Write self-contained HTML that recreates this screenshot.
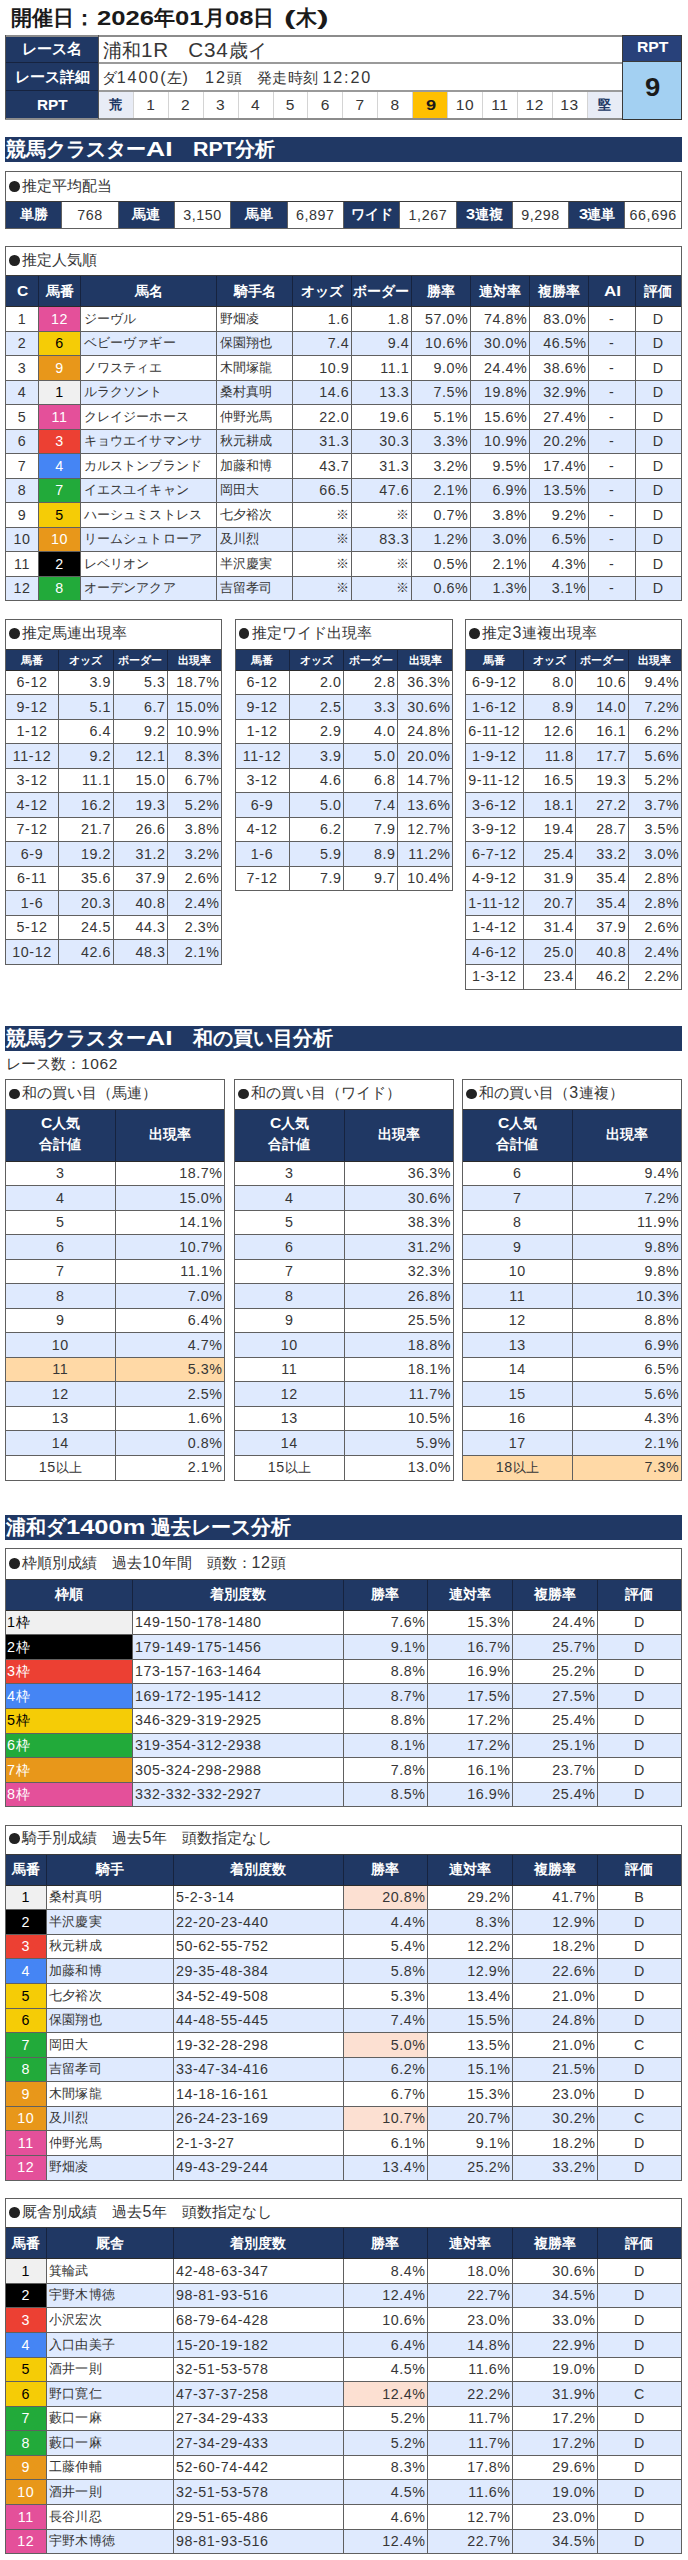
<!DOCTYPE html>
<html lang="ja"><head><meta charset="utf-8"><title>RPT</title><style>
html,body{margin:0;padding:0;background:#fff;}
body{width:688px;height:2560px;position:relative;overflow:hidden;font-family:"Liberation Sans",sans-serif;font-size:13.5px;color:#363636;}
div{position:absolute;box-sizing:border-box;white-space:nowrap;overflow:hidden;}
i{font-style:normal;font-size:1.065em;letter-spacing:.04em;}
s{display:inline-block;width:10.6px;height:10.6px;border-radius:50%;background:#222;margin:0 2.6px 0 1.8px;vertical-align:-1px;}
u{display:inline-block;text-decoration:none;vertical-align:baseline;line-height:1;}
u b{display:inline-block;font-size:1em;transform:scaleX(1.05);transform-origin:0 50%;}
u b.d{transform:scaleX(1.25);}
.c{text-align:center;}
.l{text-align:left;padding-left:3px;letter-spacing:.2px;}
.r{text-align:right;padding-right:2px;}
.s{padding-left:1.5px;}
.h{text-align:center;color:#fff;}
.cap{text-align:left;padding-left:2px;}
.ws i{letter-spacing:.115em;}
</style></head>
<body>
<div style="left:11px;top:3px;width:600px;height:30px;line-height:30px;font-size:20.5px;font-weight:bold;color:#1a1a1a;">開催日：<span style="margin-left:2px"><u style="width:57.01px"><b style="transform:scaleX(1.25);">2026</b></u>年<u style="width:28.5px"><b style="transform:scaleX(1.25);">01</b></u>月<u style="width:28.5px"><b style="transform:scaleX(1.25);">08</b></u>日<span style="margin-left:10px"><u style="width:11.61px"><b style="transform:scaleX(1.7);">(</b></u>木<u style="width:11.61px"><b style="transform:scaleX(1.7);">)</b></u></span></span></div>
<div style="left:5.5px;top:35.5px;width:93px;height:83.3px;background:#203864;"></div>
<div class="h" style="left:5.5px;top:35.5px;width:93px;height:27.3px;line-height:27.3px;font-size:14.6px;font-weight:bold;">レース名</div>
<div class="h" style="left:5.5px;top:62.8px;width:93px;height:28px;line-height:28px;font-size:14.6px;font-weight:bold;">レース詳細</div>
<div class="h" style="left:5.5px;top:90.8px;width:93px;height:28px;line-height:28px;font-size:14.6px;font-weight:bold;"><u style="width:30.66px"><b>RPT</b></u></div>
<div class="l" style="left:98.5px;top:35.5px;width:523.5px;height:27.3px;background:#fff;line-height:27.3px;font-size:19.4px;padding-left:4px;">浦和<i>1R</i>　<i>C34</i>歳イ</div>
<div class="l ws" style="left:98.5px;top:62.8px;width:523.5px;height:28px;background:#fff;line-height:28px;font-size:15.2px;padding-left:3px;">ダ<i>1400(</i>左<i>)</i>　<i>12</i>頭　発走時刻 <i>12:20</i></div>
<div class="c" style="left:98.5px;top:90.8px;width:34.9px;height:28px;background:#e8ecf6;line-height:28px;font-size:13.4px;font-weight:bold;color:#203864;">荒</div>
<div class="c" style="left:133.4px;top:90.8px;width:34.9px;height:28px;background:#fff;line-height:28px;font-size:14.6px;"><i>1</i></div>
<div style="left:132.9px;top:90.3px;width:1px;height:29px;background:#d4d4d4;"></div>
<div class="c" style="left:168.3px;top:90.8px;width:34.9px;height:28px;background:#fff;line-height:28px;font-size:14.6px;"><i>2</i></div>
<div style="left:167.8px;top:90.3px;width:1px;height:29px;background:#d4d4d4;"></div>
<div class="c" style="left:203.2px;top:90.8px;width:34.9px;height:28px;background:#fff;line-height:28px;font-size:14.6px;"><i>3</i></div>
<div style="left:202.7px;top:90.3px;width:1px;height:29px;background:#d4d4d4;"></div>
<div class="c" style="left:238.1px;top:90.8px;width:34.9px;height:28px;background:#fff;line-height:28px;font-size:14.6px;"><i>4</i></div>
<div style="left:237.6px;top:90.3px;width:1px;height:29px;background:#d4d4d4;"></div>
<div class="c" style="left:273px;top:90.8px;width:34.9px;height:28px;background:#fff;line-height:28px;font-size:14.6px;"><i>5</i></div>
<div style="left:272.5px;top:90.3px;width:1px;height:29px;background:#d4d4d4;"></div>
<div class="c" style="left:307.9px;top:90.8px;width:34.9px;height:28px;background:#fff;line-height:28px;font-size:14.6px;"><i>6</i></div>
<div style="left:307.4px;top:90.3px;width:1px;height:29px;background:#d4d4d4;"></div>
<div class="c" style="left:342.8px;top:90.8px;width:34.9px;height:28px;background:#fff;line-height:28px;font-size:14.6px;"><i>7</i></div>
<div style="left:342.3px;top:90.3px;width:1px;height:29px;background:#d4d4d4;"></div>
<div class="c" style="left:377.7px;top:90.8px;width:34.9px;height:28px;background:#fff;line-height:28px;font-size:14.6px;"><i>8</i></div>
<div style="left:377.2px;top:90.3px;width:1px;height:29px;background:#d4d4d4;"></div>
<div class="c" style="left:412.6px;top:90.8px;width:34.9px;height:28px;background:#ffc000;line-height:28px;font-size:14.6px;font-weight:bold;color:#1a1a1a;"><u style="width:10.15px"><b style="transform:scaleX(1.25);">9</b></u></div>
<div style="left:412.1px;top:90.3px;width:1px;height:29px;background:#d4d4d4;"></div>
<div class="c" style="left:447.5px;top:90.8px;width:34.9px;height:28px;background:#fff;line-height:28px;font-size:14.6px;"><i>10</i></div>
<div style="left:447px;top:90.3px;width:1px;height:29px;background:#d4d4d4;"></div>
<div class="c" style="left:482.4px;top:90.8px;width:34.9px;height:28px;background:#fff;line-height:28px;font-size:14.6px;"><i>11</i></div>
<div style="left:481.9px;top:90.3px;width:1px;height:29px;background:#d4d4d4;"></div>
<div class="c" style="left:517.3px;top:90.8px;width:34.9px;height:28px;background:#fff;line-height:28px;font-size:14.6px;"><i>12</i></div>
<div style="left:516.8px;top:90.3px;width:1px;height:29px;background:#d4d4d4;"></div>
<div class="c" style="left:552.2px;top:90.8px;width:34.9px;height:28px;background:#fff;line-height:28px;font-size:14.6px;"><i>13</i></div>
<div style="left:551.7px;top:90.3px;width:1px;height:29px;background:#d4d4d4;"></div>
<div class="c" style="left:587.1px;top:90.8px;width:34.9px;height:28px;background:#e8ecf6;line-height:28px;font-size:13.4px;font-weight:bold;color:#203864;">堅</div>
<div style="left:586.6px;top:90.3px;width:1px;height:29px;background:#d4d4d4;"></div>
<div style="left:98px;top:61.8px;width:524.5px;height:2px;background:#9a9a9a;"></div>
<div style="left:5px;top:62.3px;width:94px;height:1px;background:#16233f;"></div>
<div style="left:98px;top:89.8px;width:524.5px;height:2px;background:#9a9a9a;"></div>
<div style="left:5px;top:90.3px;width:94px;height:1px;background:#16233f;"></div>
<div style="left:5px;top:34.5px;width:617.5px;height:2px;background:#8c8c8c;"></div>
<div style="left:5px;top:117.8px;width:617.5px;height:2px;background:#8c8c8c;"></div>
<div style="left:5px;top:35px;width:1px;height:84.3px;background:#555;"></div>
<div style="left:98px;top:35px;width:1px;height:84.3px;background:#555;"></div>
<div style="left:622px;top:35.5px;width:59.5px;height:26px;background:#28417a;"></div>
<div class="h" style="left:622px;top:35.5px;width:59.5px;height:23.4px;line-height:23.4px;font-size:13.6px;font-weight:bold;"><u style="width:31.42px"><b style="font-size:1.1em;">RPT</b></u></div>
<div style="left:622px;top:61px;width:59.5px;height:58.5px;background:#a3d0f2;line-height:53.5px;text-align:center;font-weight:bold;font-size:25px;color:#1a1a1a;"><u style="width:15.4px"><b style="transform:scaleX(1.1)">9</b></u></div>
<div style="left:621.5px;top:35px;width:1px;height:84.8px;background:#3a3a3a;"></div>
<div style="left:681px;top:35px;width:1px;height:84.8px;background:#3a3a3a;"></div>
<div style="left:621.5px;top:35px;width:60.5px;height:1px;background:#3a3a3a;"></div>
<div style="left:621.5px;top:118.55px;width:60.5px;height:1.5px;background:#333;"></div>
<div style="left:621.5px;top:60.5px;width:60.5px;height:1px;background:#3a3a3a;"></div>
<div style="left:5px;top:137px;width:677px;height:25px;background:#203864;line-height:25px;font-size:20.4px;font-weight:bold;color:#fff;padding-left:1px;">競馬クラスター<u style="width:26.52px"><b style="transform:scaleX(1.3);">AI</b></u>　<u style="width:42.84px"><b>RPT</b></u>分析</div>
<div class="cap" style="left:5.5px;top:171.5px;width:675.8px;height:30px;background:#fff;line-height:27.6px;font-size:15px;"><s></s>推定平均配当</div>
<div class="h" style="left:5.5px;top:201.5px;width:56.32px;height:26.5px;background:#203864;line-height:26.5px;font-size:13.5px;font-weight:bold;">単勝</div>
<div class="c" style="left:61.82px;top:201.5px;width:56.32px;height:26.5px;background:#fff;line-height:26.5px;font-size:13.4px;"><i>768</i></div>
<div style="left:61.32px;top:201px;width:1px;height:27.5px;background:#606060;"></div>
<div class="h" style="left:118.13px;top:201.5px;width:56.32px;height:26.5px;background:#203864;line-height:26.5px;font-size:13.5px;font-weight:bold;">馬連</div>
<div class="c" style="left:174.45px;top:201.5px;width:56.32px;height:26.5px;background:#fff;line-height:26.5px;font-size:13.4px;"><i>3,150</i></div>
<div style="left:173.95px;top:201px;width:1px;height:27.5px;background:#606060;"></div>
<div style="left:117.63px;top:201px;width:1px;height:27.5px;background:#606060;"></div>
<div class="h" style="left:230.77px;top:201.5px;width:56.32px;height:26.5px;background:#203864;line-height:26.5px;font-size:13.5px;font-weight:bold;">馬単</div>
<div class="c" style="left:287.08px;top:201.5px;width:56.32px;height:26.5px;background:#fff;line-height:26.5px;font-size:13.4px;"><i>6,897</i></div>
<div style="left:286.58px;top:201px;width:1px;height:27.5px;background:#606060;"></div>
<div style="left:230.27px;top:201px;width:1px;height:27.5px;background:#606060;"></div>
<div class="h" style="left:343.4px;top:201.5px;width:56.32px;height:26.5px;background:#203864;line-height:26.5px;font-size:13.5px;font-weight:bold;">ワイド</div>
<div class="c" style="left:399.72px;top:201.5px;width:56.32px;height:26.5px;background:#fff;line-height:26.5px;font-size:13.4px;"><i>1,267</i></div>
<div style="left:399.22px;top:201px;width:1px;height:27.5px;background:#606060;"></div>
<div style="left:342.9px;top:201px;width:1px;height:27.5px;background:#606060;"></div>
<div class="h" style="left:456.03px;top:201.5px;width:56.32px;height:26.5px;background:#203864;line-height:26.5px;font-size:13.5px;font-weight:bold;"><u style="width:9.09px"><b style="transform:scaleX(1.1);font-size:1.1em;">3</b></u>連複</div>
<div class="c" style="left:512.35px;top:201.5px;width:56.32px;height:26.5px;background:#fff;line-height:26.5px;font-size:13.4px;"><i>9,298</i></div>
<div style="left:511.85px;top:201px;width:1px;height:27.5px;background:#606060;"></div>
<div style="left:455.53px;top:201px;width:1px;height:27.5px;background:#606060;"></div>
<div class="h" style="left:568.67px;top:201.5px;width:56.32px;height:26.5px;background:#203864;line-height:26.5px;font-size:13.5px;font-weight:bold;"><u style="width:9.09px"><b style="transform:scaleX(1.1);font-size:1.1em;">3</b></u>連単</div>
<div class="c" style="left:624.98px;top:201.5px;width:56.32px;height:26.5px;background:#fff;line-height:26.5px;font-size:13.4px;"><i>66,696</i></div>
<div style="left:624.48px;top:201px;width:1px;height:27.5px;background:#606060;"></div>
<div style="left:568.17px;top:201px;width:1px;height:27.5px;background:#606060;"></div>
<div style="left:5px;top:171px;width:676.8px;height:1px;background:#606060;"></div>
<div style="left:5px;top:201px;width:676.8px;height:1px;background:#3a3a3a;"></div>
<div style="left:5px;top:227.5px;width:676.8px;height:1px;background:#606060;"></div>
<div style="left:5px;top:171px;width:1px;height:57.5px;background:#606060;"></div>
<div style="left:680.8px;top:171px;width:1px;height:57.5px;background:#606060;"></div>
<div class="cap" style="left:5.5px;top:246px;width:675.8px;height:29.5px;background:#fff;line-height:27.1px;font-size:15px;"><s></s>推定人気順</div>
<div style="left:5.5px;top:275.5px;width:675.8px;height:31px;background:#203864;"></div>
<div class="h" style="left:5.5px;top:275.5px;width:33px;height:31px;line-height:31px;font-size:13.5px;font-weight:bold;"><u style="width:11.26px"><b style="font-size:1.1em;">C</b></u></div>
<div class="h" style="left:38.5px;top:275.5px;width:42px;height:31px;line-height:31px;font-size:13.5px;font-weight:bold;">馬番</div>
<div class="h" style="left:80.5px;top:275.5px;width:136px;height:31px;line-height:31px;font-size:13.5px;font-weight:bold;">馬名</div>
<div class="h" style="left:216.5px;top:275.5px;width:76px;height:31px;line-height:31px;font-size:13.5px;font-weight:bold;">騎手名</div>
<div class="h" style="left:292.5px;top:275.5px;width:58.7px;height:31px;line-height:31px;font-size:13.5px;font-weight:bold;">オッズ</div>
<div class="h" style="left:351.2px;top:275.5px;width:60.1px;height:31px;line-height:31px;font-size:13.5px;font-weight:bold;">ボーダー</div>
<div class="h" style="left:411.3px;top:275.5px;width:58.9px;height:31px;line-height:31px;font-size:13.5px;font-weight:bold;">勝率</div>
<div class="h" style="left:470.2px;top:275.5px;width:59px;height:31px;line-height:31px;font-size:13.5px;font-weight:bold;">連対率</div>
<div class="h" style="left:529.2px;top:275.5px;width:59.3px;height:31px;line-height:31px;font-size:13.5px;font-weight:bold;">複勝率</div>
<div class="h" style="left:588.5px;top:275.5px;width:46.5px;height:31px;line-height:31px;font-size:13.5px;font-weight:bold;"><u style="width:17.08px"><b style="transform:scaleX(1.15);font-size:1.1em;">AI</b></u></div>
<div class="h" style="left:635px;top:275.5px;width:46.3px;height:31px;line-height:31px;font-size:13.5px;font-weight:bold;">評価</div>
<div style="left:5.5px;top:306.5px;width:675.8px;height:24.54px;background:#fff;"></div>
<div class="c" style="left:5.5px;top:306.5px;width:33px;height:24.54px;line-height:24.54px;font-size:13.4px;"><i>1</i></div>
<div class="c" style="left:38.5px;top:306.5px;width:42px;height:24.54px;background:#e4509a;line-height:24.54px;font-size:13.4px;color:#fff;"><i>12</i></div>
<div class="l" style="left:80.5px;top:306.5px;width:136px;height:24.54px;line-height:24.54px;font-size:13.4px;">ジーヴル</div>
<div class="l" style="left:216.5px;top:306.5px;width:76px;height:24.54px;line-height:24.54px;font-size:13.4px;">野畑凌</div>
<div class="r" style="left:292.5px;top:306.5px;width:58.7px;height:24.54px;line-height:24.54px;font-size:13.4px;"><i>1.6</i></div>
<div class="r" style="left:351.2px;top:306.5px;width:60.1px;height:24.54px;line-height:24.54px;font-size:13.4px;"><i>1.8</i></div>
<div class="r" style="left:411.3px;top:306.5px;width:58.9px;height:24.54px;line-height:24.54px;font-size:13.4px;"><i>57.0%</i></div>
<div class="r" style="left:470.2px;top:306.5px;width:59px;height:24.54px;line-height:24.54px;font-size:13.4px;"><i>74.8%</i></div>
<div class="r" style="left:529.2px;top:306.5px;width:59.3px;height:24.54px;line-height:24.54px;font-size:13.4px;"><i>83.0%</i></div>
<div class="c" style="left:588.5px;top:306.5px;width:46.5px;height:24.54px;line-height:24.54px;font-size:13.4px;"><i>-</i></div>
<div class="c" style="left:635px;top:306.5px;width:46.3px;height:24.54px;line-height:24.54px;font-size:13.4px;"><i>D</i></div>
<div style="left:5.5px;top:331.04px;width:675.8px;height:24.54px;background:#dfeafe;"></div>
<div class="c" style="left:5.5px;top:331.04px;width:33px;height:24.54px;line-height:24.54px;font-size:13.4px;"><i>2</i></div>
<div class="c" style="left:38.5px;top:331.04px;width:42px;height:24.54px;background:#f5cc06;line-height:24.54px;font-size:13.4px;color:#000;"><i>6</i></div>
<div class="l" style="left:80.5px;top:331.04px;width:136px;height:24.54px;line-height:24.54px;font-size:13.4px;">ベビーヴァギー</div>
<div class="l" style="left:216.5px;top:331.04px;width:76px;height:24.54px;line-height:24.54px;font-size:13.4px;">保園翔也</div>
<div class="r" style="left:292.5px;top:331.04px;width:58.7px;height:24.54px;line-height:24.54px;font-size:13.4px;"><i>7.4</i></div>
<div class="r" style="left:351.2px;top:331.04px;width:60.1px;height:24.54px;line-height:24.54px;font-size:13.4px;"><i>9.4</i></div>
<div class="r" style="left:411.3px;top:331.04px;width:58.9px;height:24.54px;line-height:24.54px;font-size:13.4px;"><i>10.6%</i></div>
<div class="r" style="left:470.2px;top:331.04px;width:59px;height:24.54px;line-height:24.54px;font-size:13.4px;"><i>30.0%</i></div>
<div class="r" style="left:529.2px;top:331.04px;width:59.3px;height:24.54px;line-height:24.54px;font-size:13.4px;"><i>46.5%</i></div>
<div class="c" style="left:588.5px;top:331.04px;width:46.5px;height:24.54px;line-height:24.54px;font-size:13.4px;"><i>-</i></div>
<div class="c" style="left:635px;top:331.04px;width:46.3px;height:24.54px;line-height:24.54px;font-size:13.4px;"><i>D</i></div>
<div style="left:5.5px;top:355.58px;width:675.8px;height:24.54px;background:#fff;"></div>
<div class="c" style="left:5.5px;top:355.58px;width:33px;height:24.54px;line-height:24.54px;font-size:13.4px;"><i>3</i></div>
<div class="c" style="left:38.5px;top:355.58px;width:42px;height:24.54px;background:#e8971a;line-height:24.54px;font-size:13.4px;color:#fff;"><i>9</i></div>
<div class="l" style="left:80.5px;top:355.58px;width:136px;height:24.54px;line-height:24.54px;font-size:13.4px;">ノワスティエ</div>
<div class="l" style="left:216.5px;top:355.58px;width:76px;height:24.54px;line-height:24.54px;font-size:13.4px;">木間塚龍</div>
<div class="r" style="left:292.5px;top:355.58px;width:58.7px;height:24.54px;line-height:24.54px;font-size:13.4px;"><i>10.9</i></div>
<div class="r" style="left:351.2px;top:355.58px;width:60.1px;height:24.54px;line-height:24.54px;font-size:13.4px;"><i>11.1</i></div>
<div class="r" style="left:411.3px;top:355.58px;width:58.9px;height:24.54px;line-height:24.54px;font-size:13.4px;"><i>9.0%</i></div>
<div class="r" style="left:470.2px;top:355.58px;width:59px;height:24.54px;line-height:24.54px;font-size:13.4px;"><i>24.4%</i></div>
<div class="r" style="left:529.2px;top:355.58px;width:59.3px;height:24.54px;line-height:24.54px;font-size:13.4px;"><i>38.6%</i></div>
<div class="c" style="left:588.5px;top:355.58px;width:46.5px;height:24.54px;line-height:24.54px;font-size:13.4px;"><i>-</i></div>
<div class="c" style="left:635px;top:355.58px;width:46.3px;height:24.54px;line-height:24.54px;font-size:13.4px;"><i>D</i></div>
<div style="left:5.5px;top:380.12px;width:675.8px;height:24.54px;background:#dfeafe;"></div>
<div class="c" style="left:5.5px;top:380.12px;width:33px;height:24.54px;line-height:24.54px;font-size:13.4px;"><i>4</i></div>
<div class="c" style="left:38.5px;top:380.12px;width:42px;height:24.54px;background:#f0f0f0;line-height:24.54px;font-size:13.4px;color:#000;"><i>1</i></div>
<div class="l" style="left:80.5px;top:380.12px;width:136px;height:24.54px;line-height:24.54px;font-size:13.4px;">ルラクソント</div>
<div class="l" style="left:216.5px;top:380.12px;width:76px;height:24.54px;line-height:24.54px;font-size:13.4px;">桑村真明</div>
<div class="r" style="left:292.5px;top:380.12px;width:58.7px;height:24.54px;line-height:24.54px;font-size:13.4px;"><i>14.6</i></div>
<div class="r" style="left:351.2px;top:380.12px;width:60.1px;height:24.54px;line-height:24.54px;font-size:13.4px;"><i>13.3</i></div>
<div class="r" style="left:411.3px;top:380.12px;width:58.9px;height:24.54px;line-height:24.54px;font-size:13.4px;"><i>7.5%</i></div>
<div class="r" style="left:470.2px;top:380.12px;width:59px;height:24.54px;line-height:24.54px;font-size:13.4px;"><i>19.8%</i></div>
<div class="r" style="left:529.2px;top:380.12px;width:59.3px;height:24.54px;line-height:24.54px;font-size:13.4px;"><i>32.9%</i></div>
<div class="c" style="left:588.5px;top:380.12px;width:46.5px;height:24.54px;line-height:24.54px;font-size:13.4px;"><i>-</i></div>
<div class="c" style="left:635px;top:380.12px;width:46.3px;height:24.54px;line-height:24.54px;font-size:13.4px;"><i>D</i></div>
<div style="left:5.5px;top:404.66px;width:675.8px;height:24.54px;background:#fff;"></div>
<div class="c" style="left:5.5px;top:404.66px;width:33px;height:24.54px;line-height:24.54px;font-size:13.4px;"><i>5</i></div>
<div class="c" style="left:38.5px;top:404.66px;width:42px;height:24.54px;background:#e4509a;line-height:24.54px;font-size:13.4px;color:#fff;"><i>11</i></div>
<div class="l" style="left:80.5px;top:404.66px;width:136px;height:24.54px;line-height:24.54px;font-size:13.4px;">クレイジーホース</div>
<div class="l" style="left:216.5px;top:404.66px;width:76px;height:24.54px;line-height:24.54px;font-size:13.4px;">仲野光馬</div>
<div class="r" style="left:292.5px;top:404.66px;width:58.7px;height:24.54px;line-height:24.54px;font-size:13.4px;"><i>22.0</i></div>
<div class="r" style="left:351.2px;top:404.66px;width:60.1px;height:24.54px;line-height:24.54px;font-size:13.4px;"><i>19.6</i></div>
<div class="r" style="left:411.3px;top:404.66px;width:58.9px;height:24.54px;line-height:24.54px;font-size:13.4px;"><i>5.1%</i></div>
<div class="r" style="left:470.2px;top:404.66px;width:59px;height:24.54px;line-height:24.54px;font-size:13.4px;"><i>15.6%</i></div>
<div class="r" style="left:529.2px;top:404.66px;width:59.3px;height:24.54px;line-height:24.54px;font-size:13.4px;"><i>27.4%</i></div>
<div class="c" style="left:588.5px;top:404.66px;width:46.5px;height:24.54px;line-height:24.54px;font-size:13.4px;"><i>-</i></div>
<div class="c" style="left:635px;top:404.66px;width:46.3px;height:24.54px;line-height:24.54px;font-size:13.4px;"><i>D</i></div>
<div style="left:5.5px;top:429.2px;width:675.8px;height:24.54px;background:#dfeafe;"></div>
<div class="c" style="left:5.5px;top:429.2px;width:33px;height:24.54px;line-height:24.54px;font-size:13.4px;"><i>6</i></div>
<div class="c" style="left:38.5px;top:429.2px;width:42px;height:24.54px;background:#ec4033;line-height:24.54px;font-size:13.4px;color:#fff;"><i>3</i></div>
<div class="l" style="left:80.5px;top:429.2px;width:136px;height:24.54px;line-height:24.54px;font-size:13.4px;">キョウエイサマンサ</div>
<div class="l" style="left:216.5px;top:429.2px;width:76px;height:24.54px;line-height:24.54px;font-size:13.4px;">秋元耕成</div>
<div class="r" style="left:292.5px;top:429.2px;width:58.7px;height:24.54px;line-height:24.54px;font-size:13.4px;"><i>31.3</i></div>
<div class="r" style="left:351.2px;top:429.2px;width:60.1px;height:24.54px;line-height:24.54px;font-size:13.4px;"><i>30.3</i></div>
<div class="r" style="left:411.3px;top:429.2px;width:58.9px;height:24.54px;line-height:24.54px;font-size:13.4px;"><i>3.3%</i></div>
<div class="r" style="left:470.2px;top:429.2px;width:59px;height:24.54px;line-height:24.54px;font-size:13.4px;"><i>10.9%</i></div>
<div class="r" style="left:529.2px;top:429.2px;width:59.3px;height:24.54px;line-height:24.54px;font-size:13.4px;"><i>20.2%</i></div>
<div class="c" style="left:588.5px;top:429.2px;width:46.5px;height:24.54px;line-height:24.54px;font-size:13.4px;"><i>-</i></div>
<div class="c" style="left:635px;top:429.2px;width:46.3px;height:24.54px;line-height:24.54px;font-size:13.4px;"><i>D</i></div>
<div style="left:5.5px;top:453.74px;width:675.8px;height:24.54px;background:#fff;"></div>
<div class="c" style="left:5.5px;top:453.74px;width:33px;height:24.54px;line-height:24.54px;font-size:13.4px;"><i>7</i></div>
<div class="c" style="left:38.5px;top:453.74px;width:42px;height:24.54px;background:#4585f4;line-height:24.54px;font-size:13.4px;color:#fff;"><i>4</i></div>
<div class="l" style="left:80.5px;top:453.74px;width:136px;height:24.54px;line-height:24.54px;font-size:13.4px;">カルストンブランド</div>
<div class="l" style="left:216.5px;top:453.74px;width:76px;height:24.54px;line-height:24.54px;font-size:13.4px;">加藤和博</div>
<div class="r" style="left:292.5px;top:453.74px;width:58.7px;height:24.54px;line-height:24.54px;font-size:13.4px;"><i>43.7</i></div>
<div class="r" style="left:351.2px;top:453.74px;width:60.1px;height:24.54px;line-height:24.54px;font-size:13.4px;"><i>31.3</i></div>
<div class="r" style="left:411.3px;top:453.74px;width:58.9px;height:24.54px;line-height:24.54px;font-size:13.4px;"><i>3.2%</i></div>
<div class="r" style="left:470.2px;top:453.74px;width:59px;height:24.54px;line-height:24.54px;font-size:13.4px;"><i>9.5%</i></div>
<div class="r" style="left:529.2px;top:453.74px;width:59.3px;height:24.54px;line-height:24.54px;font-size:13.4px;"><i>17.4%</i></div>
<div class="c" style="left:588.5px;top:453.74px;width:46.5px;height:24.54px;line-height:24.54px;font-size:13.4px;"><i>-</i></div>
<div class="c" style="left:635px;top:453.74px;width:46.3px;height:24.54px;line-height:24.54px;font-size:13.4px;"><i>D</i></div>
<div style="left:5.5px;top:478.28px;width:675.8px;height:24.54px;background:#dfeafe;"></div>
<div class="c" style="left:5.5px;top:478.28px;width:33px;height:24.54px;line-height:24.54px;font-size:13.4px;"><i>8</i></div>
<div class="c" style="left:38.5px;top:478.28px;width:42px;height:24.54px;background:#22aa3a;line-height:24.54px;font-size:13.4px;color:#fff;"><i>7</i></div>
<div class="l" style="left:80.5px;top:478.28px;width:136px;height:24.54px;line-height:24.54px;font-size:13.4px;">イエスユイキャン</div>
<div class="l" style="left:216.5px;top:478.28px;width:76px;height:24.54px;line-height:24.54px;font-size:13.4px;">岡田大</div>
<div class="r" style="left:292.5px;top:478.28px;width:58.7px;height:24.54px;line-height:24.54px;font-size:13.4px;"><i>66.5</i></div>
<div class="r" style="left:351.2px;top:478.28px;width:60.1px;height:24.54px;line-height:24.54px;font-size:13.4px;"><i>47.6</i></div>
<div class="r" style="left:411.3px;top:478.28px;width:58.9px;height:24.54px;line-height:24.54px;font-size:13.4px;"><i>2.1%</i></div>
<div class="r" style="left:470.2px;top:478.28px;width:59px;height:24.54px;line-height:24.54px;font-size:13.4px;"><i>6.9%</i></div>
<div class="r" style="left:529.2px;top:478.28px;width:59.3px;height:24.54px;line-height:24.54px;font-size:13.4px;"><i>13.5%</i></div>
<div class="c" style="left:588.5px;top:478.28px;width:46.5px;height:24.54px;line-height:24.54px;font-size:13.4px;"><i>-</i></div>
<div class="c" style="left:635px;top:478.28px;width:46.3px;height:24.54px;line-height:24.54px;font-size:13.4px;"><i>D</i></div>
<div style="left:5.5px;top:502.82px;width:675.8px;height:24.54px;background:#fff;"></div>
<div class="c" style="left:5.5px;top:502.82px;width:33px;height:24.54px;line-height:24.54px;font-size:13.4px;"><i>9</i></div>
<div class="c" style="left:38.5px;top:502.82px;width:42px;height:24.54px;background:#f5cc06;line-height:24.54px;font-size:13.4px;color:#000;"><i>5</i></div>
<div class="l" style="left:80.5px;top:502.82px;width:136px;height:24.54px;line-height:24.54px;font-size:13.4px;">ハーシュミストレス</div>
<div class="l" style="left:216.5px;top:502.82px;width:76px;height:24.54px;line-height:24.54px;font-size:13.4px;">七夕裕次</div>
<div class="r" style="left:292.5px;top:502.82px;width:58.7px;height:24.54px;line-height:24.54px;font-size:13.4px;">※</div>
<div class="r" style="left:351.2px;top:502.82px;width:60.1px;height:24.54px;line-height:24.54px;font-size:13.4px;">※</div>
<div class="r" style="left:411.3px;top:502.82px;width:58.9px;height:24.54px;line-height:24.54px;font-size:13.4px;"><i>0.7%</i></div>
<div class="r" style="left:470.2px;top:502.82px;width:59px;height:24.54px;line-height:24.54px;font-size:13.4px;"><i>3.8%</i></div>
<div class="r" style="left:529.2px;top:502.82px;width:59.3px;height:24.54px;line-height:24.54px;font-size:13.4px;"><i>9.2%</i></div>
<div class="c" style="left:588.5px;top:502.82px;width:46.5px;height:24.54px;line-height:24.54px;font-size:13.4px;"><i>-</i></div>
<div class="c" style="left:635px;top:502.82px;width:46.3px;height:24.54px;line-height:24.54px;font-size:13.4px;"><i>D</i></div>
<div style="left:5.5px;top:527.36px;width:675.8px;height:24.54px;background:#dfeafe;"></div>
<div class="c" style="left:5.5px;top:527.36px;width:33px;height:24.54px;line-height:24.54px;font-size:13.4px;"><i>10</i></div>
<div class="c" style="left:38.5px;top:527.36px;width:42px;height:24.54px;background:#e8971a;line-height:24.54px;font-size:13.4px;color:#fff;"><i>10</i></div>
<div class="l" style="left:80.5px;top:527.36px;width:136px;height:24.54px;line-height:24.54px;font-size:13.4px;">リームシュトローア</div>
<div class="l" style="left:216.5px;top:527.36px;width:76px;height:24.54px;line-height:24.54px;font-size:13.4px;">及川烈</div>
<div class="r" style="left:292.5px;top:527.36px;width:58.7px;height:24.54px;line-height:24.54px;font-size:13.4px;">※</div>
<div class="r" style="left:351.2px;top:527.36px;width:60.1px;height:24.54px;line-height:24.54px;font-size:13.4px;"><i>83.3</i></div>
<div class="r" style="left:411.3px;top:527.36px;width:58.9px;height:24.54px;line-height:24.54px;font-size:13.4px;"><i>1.2%</i></div>
<div class="r" style="left:470.2px;top:527.36px;width:59px;height:24.54px;line-height:24.54px;font-size:13.4px;"><i>3.0%</i></div>
<div class="r" style="left:529.2px;top:527.36px;width:59.3px;height:24.54px;line-height:24.54px;font-size:13.4px;"><i>6.5%</i></div>
<div class="c" style="left:588.5px;top:527.36px;width:46.5px;height:24.54px;line-height:24.54px;font-size:13.4px;"><i>-</i></div>
<div class="c" style="left:635px;top:527.36px;width:46.3px;height:24.54px;line-height:24.54px;font-size:13.4px;"><i>D</i></div>
<div style="left:5.5px;top:551.9px;width:675.8px;height:24.54px;background:#fff;"></div>
<div class="c" style="left:5.5px;top:551.9px;width:33px;height:24.54px;line-height:24.54px;font-size:13.4px;"><i>11</i></div>
<div class="c" style="left:38.5px;top:551.9px;width:42px;height:24.54px;background:#000;line-height:24.54px;font-size:13.4px;color:#fff;"><i>2</i></div>
<div class="l" style="left:80.5px;top:551.9px;width:136px;height:24.54px;line-height:24.54px;font-size:13.4px;">レベリオン</div>
<div class="l" style="left:216.5px;top:551.9px;width:76px;height:24.54px;line-height:24.54px;font-size:13.4px;">半沢慶実</div>
<div class="r" style="left:292.5px;top:551.9px;width:58.7px;height:24.54px;line-height:24.54px;font-size:13.4px;">※</div>
<div class="r" style="left:351.2px;top:551.9px;width:60.1px;height:24.54px;line-height:24.54px;font-size:13.4px;">※</div>
<div class="r" style="left:411.3px;top:551.9px;width:58.9px;height:24.54px;line-height:24.54px;font-size:13.4px;"><i>0.5%</i></div>
<div class="r" style="left:470.2px;top:551.9px;width:59px;height:24.54px;line-height:24.54px;font-size:13.4px;"><i>2.1%</i></div>
<div class="r" style="left:529.2px;top:551.9px;width:59.3px;height:24.54px;line-height:24.54px;font-size:13.4px;"><i>4.3%</i></div>
<div class="c" style="left:588.5px;top:551.9px;width:46.5px;height:24.54px;line-height:24.54px;font-size:13.4px;"><i>-</i></div>
<div class="c" style="left:635px;top:551.9px;width:46.3px;height:24.54px;line-height:24.54px;font-size:13.4px;"><i>D</i></div>
<div style="left:5.5px;top:576.44px;width:675.8px;height:24.54px;background:#dfeafe;"></div>
<div class="c" style="left:5.5px;top:576.44px;width:33px;height:24.54px;line-height:24.54px;font-size:13.4px;"><i>12</i></div>
<div class="c" style="left:38.5px;top:576.44px;width:42px;height:24.54px;background:#22aa3a;line-height:24.54px;font-size:13.4px;color:#fff;"><i>8</i></div>
<div class="l" style="left:80.5px;top:576.44px;width:136px;height:24.54px;line-height:24.54px;font-size:13.4px;">オーデンアクア</div>
<div class="l" style="left:216.5px;top:576.44px;width:76px;height:24.54px;line-height:24.54px;font-size:13.4px;">吉留孝司</div>
<div class="r" style="left:292.5px;top:576.44px;width:58.7px;height:24.54px;line-height:24.54px;font-size:13.4px;">※</div>
<div class="r" style="left:351.2px;top:576.44px;width:60.1px;height:24.54px;line-height:24.54px;font-size:13.4px;">※</div>
<div class="r" style="left:411.3px;top:576.44px;width:58.9px;height:24.54px;line-height:24.54px;font-size:13.4px;"><i>0.6%</i></div>
<div class="r" style="left:470.2px;top:576.44px;width:59px;height:24.54px;line-height:24.54px;font-size:13.4px;"><i>1.3%</i></div>
<div class="r" style="left:529.2px;top:576.44px;width:59.3px;height:24.54px;line-height:24.54px;font-size:13.4px;"><i>3.1%</i></div>
<div class="c" style="left:588.5px;top:576.44px;width:46.5px;height:24.54px;line-height:24.54px;font-size:13.4px;"><i>-</i></div>
<div class="c" style="left:635px;top:576.44px;width:46.3px;height:24.54px;line-height:24.54px;font-size:13.4px;"><i>D</i></div>
<div style="left:5px;top:330.54px;width:676.8px;height:1px;background:#606060;"></div>
<div style="left:5px;top:355.08px;width:676.8px;height:1px;background:#606060;"></div>
<div style="left:5px;top:379.62px;width:676.8px;height:1px;background:#606060;"></div>
<div style="left:5px;top:404.16px;width:676.8px;height:1px;background:#606060;"></div>
<div style="left:5px;top:428.7px;width:676.8px;height:1px;background:#606060;"></div>
<div style="left:5px;top:453.24px;width:676.8px;height:1px;background:#606060;"></div>
<div style="left:5px;top:477.78px;width:676.8px;height:1px;background:#606060;"></div>
<div style="left:5px;top:502.32px;width:676.8px;height:1px;background:#606060;"></div>
<div style="left:5px;top:526.86px;width:676.8px;height:1px;background:#606060;"></div>
<div style="left:5px;top:551.4px;width:676.8px;height:1px;background:#606060;"></div>
<div style="left:5px;top:575.94px;width:676.8px;height:1px;background:#606060;"></div>
<div style="left:38px;top:275px;width:1px;height:32px;background:#16233f;"></div>
<div style="left:38px;top:306px;width:1px;height:295.48px;background:#606060;"></div>
<div style="left:80px;top:275px;width:1px;height:32px;background:#16233f;"></div>
<div style="left:80px;top:306px;width:1px;height:295.48px;background:#606060;"></div>
<div style="left:216px;top:275px;width:1px;height:32px;background:#16233f;"></div>
<div style="left:216px;top:306px;width:1px;height:295.48px;background:#606060;"></div>
<div style="left:292px;top:275px;width:1px;height:32px;background:#16233f;"></div>
<div style="left:292px;top:306px;width:1px;height:295.48px;background:#606060;"></div>
<div style="left:350.7px;top:275px;width:1px;height:32px;background:#16233f;"></div>
<div style="left:350.7px;top:306px;width:1px;height:295.48px;background:#606060;"></div>
<div style="left:410.8px;top:275px;width:1px;height:32px;background:#16233f;"></div>
<div style="left:410.8px;top:306px;width:1px;height:295.48px;background:#606060;"></div>
<div style="left:469.7px;top:275px;width:1px;height:32px;background:#16233f;"></div>
<div style="left:469.7px;top:306px;width:1px;height:295.48px;background:#606060;"></div>
<div style="left:528.7px;top:275px;width:1px;height:32px;background:#16233f;"></div>
<div style="left:528.7px;top:306px;width:1px;height:295.48px;background:#606060;"></div>
<div style="left:588px;top:275px;width:1px;height:32px;background:#16233f;"></div>
<div style="left:588px;top:306px;width:1px;height:295.48px;background:#606060;"></div>
<div style="left:634.5px;top:275px;width:1px;height:32px;background:#16233f;"></div>
<div style="left:634.5px;top:306px;width:1px;height:295.48px;background:#606060;"></div>
<div style="left:5px;top:306px;width:676.8px;height:1px;background:#2a2a2a;"></div>
<div style="left:5px;top:275px;width:676.8px;height:1px;background:#3a3a3a;"></div>
<div style="left:5px;top:245.5px;width:676.8px;height:1px;background:#606060;"></div>
<div style="left:5px;top:600.48px;width:676.8px;height:1px;background:#606060;"></div>
<div style="left:5px;top:245.5px;width:1px;height:355.98px;background:#606060;"></div>
<div style="left:680.8px;top:245.5px;width:1px;height:355.98px;background:#606060;"></div>
<div class="cap" style="left:5.5px;top:619px;width:216px;height:30.5px;background:#fff;line-height:28.1px;font-size:15px;"><s></s>推定馬連出現率</div>
<div style="left:5.5px;top:649.5px;width:216px;height:20.5px;background:#203864;"></div>
<div class="h hs" style="left:5.5px;top:649.5px;width:53px;height:20.5px;line-height:20.5px;font-size:11px;font-weight:bold;">馬番</div>
<div class="h hs" style="left:58.5px;top:649.5px;width:54.5px;height:20.5px;line-height:20.5px;font-size:11px;font-weight:bold;">オッズ</div>
<div class="h hs" style="left:113px;top:649.5px;width:54.5px;height:20.5px;line-height:20.5px;font-size:11px;font-weight:bold;">ボーダー</div>
<div class="h hs" style="left:167.5px;top:649.5px;width:54px;height:20.5px;line-height:20.5px;font-size:11px;font-weight:bold;">出現率</div>
<div style="left:5.5px;top:670px;width:216px;height:24.54px;background:#fff;"></div>
<div class="c" style="left:5.5px;top:670px;width:53px;height:24.54px;line-height:24.54px;font-size:13.4px;"><i>6-12</i></div>
<div class="r" style="left:58.5px;top:670px;width:54.5px;height:24.54px;line-height:24.54px;font-size:13.4px;"><i>3.9</i></div>
<div class="r" style="left:113px;top:670px;width:54.5px;height:24.54px;line-height:24.54px;font-size:13.4px;"><i>5.3</i></div>
<div class="r" style="left:167.5px;top:670px;width:54px;height:24.54px;line-height:24.54px;font-size:13.4px;"><i>18.7%</i></div>
<div style="left:5.5px;top:694.54px;width:216px;height:24.54px;background:#dfeafe;"></div>
<div class="c" style="left:5.5px;top:694.54px;width:53px;height:24.54px;line-height:24.54px;font-size:13.4px;"><i>9-12</i></div>
<div class="r" style="left:58.5px;top:694.54px;width:54.5px;height:24.54px;line-height:24.54px;font-size:13.4px;"><i>5.1</i></div>
<div class="r" style="left:113px;top:694.54px;width:54.5px;height:24.54px;line-height:24.54px;font-size:13.4px;"><i>6.7</i></div>
<div class="r" style="left:167.5px;top:694.54px;width:54px;height:24.54px;line-height:24.54px;font-size:13.4px;"><i>15.0%</i></div>
<div style="left:5.5px;top:719.08px;width:216px;height:24.54px;background:#fff;"></div>
<div class="c" style="left:5.5px;top:719.08px;width:53px;height:24.54px;line-height:24.54px;font-size:13.4px;"><i>1-12</i></div>
<div class="r" style="left:58.5px;top:719.08px;width:54.5px;height:24.54px;line-height:24.54px;font-size:13.4px;"><i>6.4</i></div>
<div class="r" style="left:113px;top:719.08px;width:54.5px;height:24.54px;line-height:24.54px;font-size:13.4px;"><i>9.2</i></div>
<div class="r" style="left:167.5px;top:719.08px;width:54px;height:24.54px;line-height:24.54px;font-size:13.4px;"><i>10.9%</i></div>
<div style="left:5.5px;top:743.62px;width:216px;height:24.54px;background:#dfeafe;"></div>
<div class="c" style="left:5.5px;top:743.62px;width:53px;height:24.54px;line-height:24.54px;font-size:13.4px;"><i>11-12</i></div>
<div class="r" style="left:58.5px;top:743.62px;width:54.5px;height:24.54px;line-height:24.54px;font-size:13.4px;"><i>9.2</i></div>
<div class="r" style="left:113px;top:743.62px;width:54.5px;height:24.54px;line-height:24.54px;font-size:13.4px;"><i>12.1</i></div>
<div class="r" style="left:167.5px;top:743.62px;width:54px;height:24.54px;line-height:24.54px;font-size:13.4px;"><i>8.3%</i></div>
<div style="left:5.5px;top:768.16px;width:216px;height:24.54px;background:#fff;"></div>
<div class="c" style="left:5.5px;top:768.16px;width:53px;height:24.54px;line-height:24.54px;font-size:13.4px;"><i>3-12</i></div>
<div class="r" style="left:58.5px;top:768.16px;width:54.5px;height:24.54px;line-height:24.54px;font-size:13.4px;"><i>11.1</i></div>
<div class="r" style="left:113px;top:768.16px;width:54.5px;height:24.54px;line-height:24.54px;font-size:13.4px;"><i>15.0</i></div>
<div class="r" style="left:167.5px;top:768.16px;width:54px;height:24.54px;line-height:24.54px;font-size:13.4px;"><i>6.7%</i></div>
<div style="left:5.5px;top:792.7px;width:216px;height:24.54px;background:#dfeafe;"></div>
<div class="c" style="left:5.5px;top:792.7px;width:53px;height:24.54px;line-height:24.54px;font-size:13.4px;"><i>4-12</i></div>
<div class="r" style="left:58.5px;top:792.7px;width:54.5px;height:24.54px;line-height:24.54px;font-size:13.4px;"><i>16.2</i></div>
<div class="r" style="left:113px;top:792.7px;width:54.5px;height:24.54px;line-height:24.54px;font-size:13.4px;"><i>19.3</i></div>
<div class="r" style="left:167.5px;top:792.7px;width:54px;height:24.54px;line-height:24.54px;font-size:13.4px;"><i>5.2%</i></div>
<div style="left:5.5px;top:817.24px;width:216px;height:24.54px;background:#fff;"></div>
<div class="c" style="left:5.5px;top:817.24px;width:53px;height:24.54px;line-height:24.54px;font-size:13.4px;"><i>7-12</i></div>
<div class="r" style="left:58.5px;top:817.24px;width:54.5px;height:24.54px;line-height:24.54px;font-size:13.4px;"><i>21.7</i></div>
<div class="r" style="left:113px;top:817.24px;width:54.5px;height:24.54px;line-height:24.54px;font-size:13.4px;"><i>26.6</i></div>
<div class="r" style="left:167.5px;top:817.24px;width:54px;height:24.54px;line-height:24.54px;font-size:13.4px;"><i>3.8%</i></div>
<div style="left:5.5px;top:841.78px;width:216px;height:24.54px;background:#dfeafe;"></div>
<div class="c" style="left:5.5px;top:841.78px;width:53px;height:24.54px;line-height:24.54px;font-size:13.4px;"><i>6-9</i></div>
<div class="r" style="left:58.5px;top:841.78px;width:54.5px;height:24.54px;line-height:24.54px;font-size:13.4px;"><i>19.2</i></div>
<div class="r" style="left:113px;top:841.78px;width:54.5px;height:24.54px;line-height:24.54px;font-size:13.4px;"><i>31.2</i></div>
<div class="r" style="left:167.5px;top:841.78px;width:54px;height:24.54px;line-height:24.54px;font-size:13.4px;"><i>3.2%</i></div>
<div style="left:5.5px;top:866.32px;width:216px;height:24.54px;background:#fff;"></div>
<div class="c" style="left:5.5px;top:866.32px;width:53px;height:24.54px;line-height:24.54px;font-size:13.4px;"><i>6-11</i></div>
<div class="r" style="left:58.5px;top:866.32px;width:54.5px;height:24.54px;line-height:24.54px;font-size:13.4px;"><i>35.6</i></div>
<div class="r" style="left:113px;top:866.32px;width:54.5px;height:24.54px;line-height:24.54px;font-size:13.4px;"><i>37.9</i></div>
<div class="r" style="left:167.5px;top:866.32px;width:54px;height:24.54px;line-height:24.54px;font-size:13.4px;"><i>2.6%</i></div>
<div style="left:5.5px;top:890.86px;width:216px;height:24.54px;background:#dfeafe;"></div>
<div class="c" style="left:5.5px;top:890.86px;width:53px;height:24.54px;line-height:24.54px;font-size:13.4px;"><i>1-6</i></div>
<div class="r" style="left:58.5px;top:890.86px;width:54.5px;height:24.54px;line-height:24.54px;font-size:13.4px;"><i>20.3</i></div>
<div class="r" style="left:113px;top:890.86px;width:54.5px;height:24.54px;line-height:24.54px;font-size:13.4px;"><i>40.8</i></div>
<div class="r" style="left:167.5px;top:890.86px;width:54px;height:24.54px;line-height:24.54px;font-size:13.4px;"><i>2.4%</i></div>
<div style="left:5.5px;top:915.4px;width:216px;height:24.54px;background:#fff;"></div>
<div class="c" style="left:5.5px;top:915.4px;width:53px;height:24.54px;line-height:24.54px;font-size:13.4px;"><i>5-12</i></div>
<div class="r" style="left:58.5px;top:915.4px;width:54.5px;height:24.54px;line-height:24.54px;font-size:13.4px;"><i>24.5</i></div>
<div class="r" style="left:113px;top:915.4px;width:54.5px;height:24.54px;line-height:24.54px;font-size:13.4px;"><i>44.3</i></div>
<div class="r" style="left:167.5px;top:915.4px;width:54px;height:24.54px;line-height:24.54px;font-size:13.4px;"><i>2.3%</i></div>
<div style="left:5.5px;top:939.94px;width:216px;height:24.54px;background:#dfeafe;"></div>
<div class="c" style="left:5.5px;top:939.94px;width:53px;height:24.54px;line-height:24.54px;font-size:13.4px;"><i>10-12</i></div>
<div class="r" style="left:58.5px;top:939.94px;width:54.5px;height:24.54px;line-height:24.54px;font-size:13.4px;"><i>42.6</i></div>
<div class="r" style="left:113px;top:939.94px;width:54.5px;height:24.54px;line-height:24.54px;font-size:13.4px;"><i>48.3</i></div>
<div class="r" style="left:167.5px;top:939.94px;width:54px;height:24.54px;line-height:24.54px;font-size:13.4px;"><i>2.1%</i></div>
<div style="left:5px;top:694.04px;width:217px;height:1px;background:#606060;"></div>
<div style="left:5px;top:718.58px;width:217px;height:1px;background:#606060;"></div>
<div style="left:5px;top:743.12px;width:217px;height:1px;background:#606060;"></div>
<div style="left:5px;top:767.66px;width:217px;height:1px;background:#606060;"></div>
<div style="left:5px;top:792.2px;width:217px;height:1px;background:#606060;"></div>
<div style="left:5px;top:816.74px;width:217px;height:1px;background:#606060;"></div>
<div style="left:5px;top:841.28px;width:217px;height:1px;background:#606060;"></div>
<div style="left:5px;top:865.82px;width:217px;height:1px;background:#606060;"></div>
<div style="left:5px;top:890.36px;width:217px;height:1px;background:#606060;"></div>
<div style="left:5px;top:914.9px;width:217px;height:1px;background:#606060;"></div>
<div style="left:5px;top:939.44px;width:217px;height:1px;background:#606060;"></div>
<div style="left:58px;top:649px;width:1px;height:21.5px;background:#16233f;"></div>
<div style="left:58px;top:669.5px;width:1px;height:295.48px;background:#606060;"></div>
<div style="left:112.5px;top:649px;width:1px;height:21.5px;background:#16233f;"></div>
<div style="left:112.5px;top:669.5px;width:1px;height:295.48px;background:#606060;"></div>
<div style="left:167px;top:649px;width:1px;height:21.5px;background:#16233f;"></div>
<div style="left:167px;top:669.5px;width:1px;height:295.48px;background:#606060;"></div>
<div style="left:5px;top:669.5px;width:217px;height:1px;background:#2a2a2a;"></div>
<div style="left:5px;top:649px;width:217px;height:1px;background:#3a3a3a;"></div>
<div style="left:5px;top:618.5px;width:217px;height:1px;background:#606060;"></div>
<div style="left:5px;top:963.98px;width:217px;height:1px;background:#606060;"></div>
<div style="left:5px;top:618.5px;width:1px;height:346.48px;background:#606060;"></div>
<div style="left:221px;top:618.5px;width:1px;height:346.48px;background:#606060;"></div>
<div class="cap" style="left:235px;top:619px;width:217.5px;height:30.5px;background:#fff;line-height:28.1px;font-size:15px;"><s></s>推定ワイド出現率</div>
<div style="left:235px;top:649.5px;width:217.5px;height:20.5px;background:#203864;"></div>
<div class="h hs" style="left:235px;top:649.5px;width:54px;height:20.5px;line-height:20.5px;font-size:11px;font-weight:bold;">馬番</div>
<div class="h hs" style="left:289px;top:649.5px;width:54.5px;height:20.5px;line-height:20.5px;font-size:11px;font-weight:bold;">オッズ</div>
<div class="h hs" style="left:343.5px;top:649.5px;width:54px;height:20.5px;line-height:20.5px;font-size:11px;font-weight:bold;">ボーダー</div>
<div class="h hs" style="left:397.5px;top:649.5px;width:55px;height:20.5px;line-height:20.5px;font-size:11px;font-weight:bold;">出現率</div>
<div style="left:235px;top:670px;width:217.5px;height:24.54px;background:#fff;"></div>
<div class="c" style="left:235px;top:670px;width:54px;height:24.54px;line-height:24.54px;font-size:13.4px;"><i>6-12</i></div>
<div class="r" style="left:289px;top:670px;width:54.5px;height:24.54px;line-height:24.54px;font-size:13.4px;"><i>2.0</i></div>
<div class="r" style="left:343.5px;top:670px;width:54px;height:24.54px;line-height:24.54px;font-size:13.4px;"><i>2.8</i></div>
<div class="r" style="left:397.5px;top:670px;width:55px;height:24.54px;line-height:24.54px;font-size:13.4px;"><i>36.3%</i></div>
<div style="left:235px;top:694.54px;width:217.5px;height:24.54px;background:#dfeafe;"></div>
<div class="c" style="left:235px;top:694.54px;width:54px;height:24.54px;line-height:24.54px;font-size:13.4px;"><i>9-12</i></div>
<div class="r" style="left:289px;top:694.54px;width:54.5px;height:24.54px;line-height:24.54px;font-size:13.4px;"><i>2.5</i></div>
<div class="r" style="left:343.5px;top:694.54px;width:54px;height:24.54px;line-height:24.54px;font-size:13.4px;"><i>3.3</i></div>
<div class="r" style="left:397.5px;top:694.54px;width:55px;height:24.54px;line-height:24.54px;font-size:13.4px;"><i>30.6%</i></div>
<div style="left:235px;top:719.08px;width:217.5px;height:24.54px;background:#fff;"></div>
<div class="c" style="left:235px;top:719.08px;width:54px;height:24.54px;line-height:24.54px;font-size:13.4px;"><i>1-12</i></div>
<div class="r" style="left:289px;top:719.08px;width:54.5px;height:24.54px;line-height:24.54px;font-size:13.4px;"><i>2.9</i></div>
<div class="r" style="left:343.5px;top:719.08px;width:54px;height:24.54px;line-height:24.54px;font-size:13.4px;"><i>4.0</i></div>
<div class="r" style="left:397.5px;top:719.08px;width:55px;height:24.54px;line-height:24.54px;font-size:13.4px;"><i>24.8%</i></div>
<div style="left:235px;top:743.62px;width:217.5px;height:24.54px;background:#dfeafe;"></div>
<div class="c" style="left:235px;top:743.62px;width:54px;height:24.54px;line-height:24.54px;font-size:13.4px;"><i>11-12</i></div>
<div class="r" style="left:289px;top:743.62px;width:54.5px;height:24.54px;line-height:24.54px;font-size:13.4px;"><i>3.9</i></div>
<div class="r" style="left:343.5px;top:743.62px;width:54px;height:24.54px;line-height:24.54px;font-size:13.4px;"><i>5.0</i></div>
<div class="r" style="left:397.5px;top:743.62px;width:55px;height:24.54px;line-height:24.54px;font-size:13.4px;"><i>20.0%</i></div>
<div style="left:235px;top:768.16px;width:217.5px;height:24.54px;background:#fff;"></div>
<div class="c" style="left:235px;top:768.16px;width:54px;height:24.54px;line-height:24.54px;font-size:13.4px;"><i>3-12</i></div>
<div class="r" style="left:289px;top:768.16px;width:54.5px;height:24.54px;line-height:24.54px;font-size:13.4px;"><i>4.6</i></div>
<div class="r" style="left:343.5px;top:768.16px;width:54px;height:24.54px;line-height:24.54px;font-size:13.4px;"><i>6.8</i></div>
<div class="r" style="left:397.5px;top:768.16px;width:55px;height:24.54px;line-height:24.54px;font-size:13.4px;"><i>14.7%</i></div>
<div style="left:235px;top:792.7px;width:217.5px;height:24.54px;background:#dfeafe;"></div>
<div class="c" style="left:235px;top:792.7px;width:54px;height:24.54px;line-height:24.54px;font-size:13.4px;"><i>6-9</i></div>
<div class="r" style="left:289px;top:792.7px;width:54.5px;height:24.54px;line-height:24.54px;font-size:13.4px;"><i>5.0</i></div>
<div class="r" style="left:343.5px;top:792.7px;width:54px;height:24.54px;line-height:24.54px;font-size:13.4px;"><i>7.4</i></div>
<div class="r" style="left:397.5px;top:792.7px;width:55px;height:24.54px;line-height:24.54px;font-size:13.4px;"><i>13.6%</i></div>
<div style="left:235px;top:817.24px;width:217.5px;height:24.54px;background:#fff;"></div>
<div class="c" style="left:235px;top:817.24px;width:54px;height:24.54px;line-height:24.54px;font-size:13.4px;"><i>4-12</i></div>
<div class="r" style="left:289px;top:817.24px;width:54.5px;height:24.54px;line-height:24.54px;font-size:13.4px;"><i>6.2</i></div>
<div class="r" style="left:343.5px;top:817.24px;width:54px;height:24.54px;line-height:24.54px;font-size:13.4px;"><i>7.9</i></div>
<div class="r" style="left:397.5px;top:817.24px;width:55px;height:24.54px;line-height:24.54px;font-size:13.4px;"><i>12.7%</i></div>
<div style="left:235px;top:841.78px;width:217.5px;height:24.54px;background:#dfeafe;"></div>
<div class="c" style="left:235px;top:841.78px;width:54px;height:24.54px;line-height:24.54px;font-size:13.4px;"><i>1-6</i></div>
<div class="r" style="left:289px;top:841.78px;width:54.5px;height:24.54px;line-height:24.54px;font-size:13.4px;"><i>5.9</i></div>
<div class="r" style="left:343.5px;top:841.78px;width:54px;height:24.54px;line-height:24.54px;font-size:13.4px;"><i>8.9</i></div>
<div class="r" style="left:397.5px;top:841.78px;width:55px;height:24.54px;line-height:24.54px;font-size:13.4px;"><i>11.2%</i></div>
<div style="left:235px;top:866.32px;width:217.5px;height:24.54px;background:#fff;"></div>
<div class="c" style="left:235px;top:866.32px;width:54px;height:24.54px;line-height:24.54px;font-size:13.4px;"><i>7-12</i></div>
<div class="r" style="left:289px;top:866.32px;width:54.5px;height:24.54px;line-height:24.54px;font-size:13.4px;"><i>7.9</i></div>
<div class="r" style="left:343.5px;top:866.32px;width:54px;height:24.54px;line-height:24.54px;font-size:13.4px;"><i>9.7</i></div>
<div class="r" style="left:397.5px;top:866.32px;width:55px;height:24.54px;line-height:24.54px;font-size:13.4px;"><i>10.4%</i></div>
<div style="left:234.5px;top:694.04px;width:218.5px;height:1px;background:#606060;"></div>
<div style="left:234.5px;top:718.58px;width:218.5px;height:1px;background:#606060;"></div>
<div style="left:234.5px;top:743.12px;width:218.5px;height:1px;background:#606060;"></div>
<div style="left:234.5px;top:767.66px;width:218.5px;height:1px;background:#606060;"></div>
<div style="left:234.5px;top:792.2px;width:218.5px;height:1px;background:#606060;"></div>
<div style="left:234.5px;top:816.74px;width:218.5px;height:1px;background:#606060;"></div>
<div style="left:234.5px;top:841.28px;width:218.5px;height:1px;background:#606060;"></div>
<div style="left:234.5px;top:865.82px;width:218.5px;height:1px;background:#606060;"></div>
<div style="left:288.5px;top:649px;width:1px;height:21.5px;background:#16233f;"></div>
<div style="left:288.5px;top:669.5px;width:1px;height:221.86px;background:#606060;"></div>
<div style="left:343px;top:649px;width:1px;height:21.5px;background:#16233f;"></div>
<div style="left:343px;top:669.5px;width:1px;height:221.86px;background:#606060;"></div>
<div style="left:397px;top:649px;width:1px;height:21.5px;background:#16233f;"></div>
<div style="left:397px;top:669.5px;width:1px;height:221.86px;background:#606060;"></div>
<div style="left:234.5px;top:669.5px;width:218.5px;height:1px;background:#2a2a2a;"></div>
<div style="left:234.5px;top:649px;width:218.5px;height:1px;background:#3a3a3a;"></div>
<div style="left:234.5px;top:618.5px;width:218.5px;height:1px;background:#606060;"></div>
<div style="left:234.5px;top:890.36px;width:218.5px;height:1px;background:#606060;"></div>
<div style="left:234.5px;top:618.5px;width:1px;height:272.86px;background:#606060;"></div>
<div style="left:452px;top:618.5px;width:1px;height:272.86px;background:#606060;"></div>
<div class="cap" style="left:465.5px;top:619px;width:215.8px;height:30.5px;background:#fff;line-height:28.1px;font-size:15px;"><s></s>推定<i>3</i>連複出現率</div>
<div style="left:465.5px;top:649.5px;width:215.8px;height:20.5px;background:#203864;"></div>
<div class="h hs" style="left:465.5px;top:649.5px;width:57.5px;height:20.5px;line-height:20.5px;font-size:11px;font-weight:bold;">馬番</div>
<div class="h hs" style="left:523px;top:649.5px;width:52.7px;height:20.5px;line-height:20.5px;font-size:11px;font-weight:bold;">オッズ</div>
<div class="h hs" style="left:575.7px;top:649.5px;width:52.6px;height:20.5px;line-height:20.5px;font-size:11px;font-weight:bold;">ボーダー</div>
<div class="h hs" style="left:628.3px;top:649.5px;width:53px;height:20.5px;line-height:20.5px;font-size:11px;font-weight:bold;">出現率</div>
<div style="left:465.5px;top:670px;width:215.8px;height:24.54px;background:#fff;"></div>
<div class="c" style="left:465.5px;top:670px;width:57.5px;height:24.54px;line-height:24.54px;font-size:13.4px;"><i>6-9-12</i></div>
<div class="r" style="left:523px;top:670px;width:52.7px;height:24.54px;line-height:24.54px;font-size:13.4px;"><i>8.0</i></div>
<div class="r" style="left:575.7px;top:670px;width:52.6px;height:24.54px;line-height:24.54px;font-size:13.4px;"><i>10.6</i></div>
<div class="r" style="left:628.3px;top:670px;width:53px;height:24.54px;line-height:24.54px;font-size:13.4px;"><i>9.4%</i></div>
<div style="left:465.5px;top:694.54px;width:215.8px;height:24.54px;background:#dfeafe;"></div>
<div class="c" style="left:465.5px;top:694.54px;width:57.5px;height:24.54px;line-height:24.54px;font-size:13.4px;"><i>1-6-12</i></div>
<div class="r" style="left:523px;top:694.54px;width:52.7px;height:24.54px;line-height:24.54px;font-size:13.4px;"><i>8.9</i></div>
<div class="r" style="left:575.7px;top:694.54px;width:52.6px;height:24.54px;line-height:24.54px;font-size:13.4px;"><i>14.0</i></div>
<div class="r" style="left:628.3px;top:694.54px;width:53px;height:24.54px;line-height:24.54px;font-size:13.4px;"><i>7.2%</i></div>
<div style="left:465.5px;top:719.08px;width:215.8px;height:24.54px;background:#fff;"></div>
<div class="c" style="left:465.5px;top:719.08px;width:57.5px;height:24.54px;line-height:24.54px;font-size:13.4px;"><i>6-11-12</i></div>
<div class="r" style="left:523px;top:719.08px;width:52.7px;height:24.54px;line-height:24.54px;font-size:13.4px;"><i>12.6</i></div>
<div class="r" style="left:575.7px;top:719.08px;width:52.6px;height:24.54px;line-height:24.54px;font-size:13.4px;"><i>16.1</i></div>
<div class="r" style="left:628.3px;top:719.08px;width:53px;height:24.54px;line-height:24.54px;font-size:13.4px;"><i>6.2%</i></div>
<div style="left:465.5px;top:743.62px;width:215.8px;height:24.54px;background:#dfeafe;"></div>
<div class="c" style="left:465.5px;top:743.62px;width:57.5px;height:24.54px;line-height:24.54px;font-size:13.4px;"><i>1-9-12</i></div>
<div class="r" style="left:523px;top:743.62px;width:52.7px;height:24.54px;line-height:24.54px;font-size:13.4px;"><i>11.8</i></div>
<div class="r" style="left:575.7px;top:743.62px;width:52.6px;height:24.54px;line-height:24.54px;font-size:13.4px;"><i>17.7</i></div>
<div class="r" style="left:628.3px;top:743.62px;width:53px;height:24.54px;line-height:24.54px;font-size:13.4px;"><i>5.6%</i></div>
<div style="left:465.5px;top:768.16px;width:215.8px;height:24.54px;background:#fff;"></div>
<div class="c" style="left:465.5px;top:768.16px;width:57.5px;height:24.54px;line-height:24.54px;font-size:13.4px;"><i>9-11-12</i></div>
<div class="r" style="left:523px;top:768.16px;width:52.7px;height:24.54px;line-height:24.54px;font-size:13.4px;"><i>16.5</i></div>
<div class="r" style="left:575.7px;top:768.16px;width:52.6px;height:24.54px;line-height:24.54px;font-size:13.4px;"><i>19.3</i></div>
<div class="r" style="left:628.3px;top:768.16px;width:53px;height:24.54px;line-height:24.54px;font-size:13.4px;"><i>5.2%</i></div>
<div style="left:465.5px;top:792.7px;width:215.8px;height:24.54px;background:#dfeafe;"></div>
<div class="c" style="left:465.5px;top:792.7px;width:57.5px;height:24.54px;line-height:24.54px;font-size:13.4px;"><i>3-6-12</i></div>
<div class="r" style="left:523px;top:792.7px;width:52.7px;height:24.54px;line-height:24.54px;font-size:13.4px;"><i>18.1</i></div>
<div class="r" style="left:575.7px;top:792.7px;width:52.6px;height:24.54px;line-height:24.54px;font-size:13.4px;"><i>27.2</i></div>
<div class="r" style="left:628.3px;top:792.7px;width:53px;height:24.54px;line-height:24.54px;font-size:13.4px;"><i>3.7%</i></div>
<div style="left:465.5px;top:817.24px;width:215.8px;height:24.54px;background:#fff;"></div>
<div class="c" style="left:465.5px;top:817.24px;width:57.5px;height:24.54px;line-height:24.54px;font-size:13.4px;"><i>3-9-12</i></div>
<div class="r" style="left:523px;top:817.24px;width:52.7px;height:24.54px;line-height:24.54px;font-size:13.4px;"><i>19.4</i></div>
<div class="r" style="left:575.7px;top:817.24px;width:52.6px;height:24.54px;line-height:24.54px;font-size:13.4px;"><i>28.7</i></div>
<div class="r" style="left:628.3px;top:817.24px;width:53px;height:24.54px;line-height:24.54px;font-size:13.4px;"><i>3.5%</i></div>
<div style="left:465.5px;top:841.78px;width:215.8px;height:24.54px;background:#dfeafe;"></div>
<div class="c" style="left:465.5px;top:841.78px;width:57.5px;height:24.54px;line-height:24.54px;font-size:13.4px;"><i>6-7-12</i></div>
<div class="r" style="left:523px;top:841.78px;width:52.7px;height:24.54px;line-height:24.54px;font-size:13.4px;"><i>25.4</i></div>
<div class="r" style="left:575.7px;top:841.78px;width:52.6px;height:24.54px;line-height:24.54px;font-size:13.4px;"><i>33.2</i></div>
<div class="r" style="left:628.3px;top:841.78px;width:53px;height:24.54px;line-height:24.54px;font-size:13.4px;"><i>3.0%</i></div>
<div style="left:465.5px;top:866.32px;width:215.8px;height:24.54px;background:#fff;"></div>
<div class="c" style="left:465.5px;top:866.32px;width:57.5px;height:24.54px;line-height:24.54px;font-size:13.4px;"><i>4-9-12</i></div>
<div class="r" style="left:523px;top:866.32px;width:52.7px;height:24.54px;line-height:24.54px;font-size:13.4px;"><i>31.9</i></div>
<div class="r" style="left:575.7px;top:866.32px;width:52.6px;height:24.54px;line-height:24.54px;font-size:13.4px;"><i>35.4</i></div>
<div class="r" style="left:628.3px;top:866.32px;width:53px;height:24.54px;line-height:24.54px;font-size:13.4px;"><i>2.8%</i></div>
<div style="left:465.5px;top:890.86px;width:215.8px;height:24.54px;background:#dfeafe;"></div>
<div class="c" style="left:465.5px;top:890.86px;width:57.5px;height:24.54px;line-height:24.54px;font-size:13.4px;"><i>1-11-12</i></div>
<div class="r" style="left:523px;top:890.86px;width:52.7px;height:24.54px;line-height:24.54px;font-size:13.4px;"><i>20.7</i></div>
<div class="r" style="left:575.7px;top:890.86px;width:52.6px;height:24.54px;line-height:24.54px;font-size:13.4px;"><i>35.4</i></div>
<div class="r" style="left:628.3px;top:890.86px;width:53px;height:24.54px;line-height:24.54px;font-size:13.4px;"><i>2.8%</i></div>
<div style="left:465.5px;top:915.4px;width:215.8px;height:24.54px;background:#fff;"></div>
<div class="c" style="left:465.5px;top:915.4px;width:57.5px;height:24.54px;line-height:24.54px;font-size:13.4px;"><i>1-4-12</i></div>
<div class="r" style="left:523px;top:915.4px;width:52.7px;height:24.54px;line-height:24.54px;font-size:13.4px;"><i>31.4</i></div>
<div class="r" style="left:575.7px;top:915.4px;width:52.6px;height:24.54px;line-height:24.54px;font-size:13.4px;"><i>37.9</i></div>
<div class="r" style="left:628.3px;top:915.4px;width:53px;height:24.54px;line-height:24.54px;font-size:13.4px;"><i>2.6%</i></div>
<div style="left:465.5px;top:939.94px;width:215.8px;height:24.54px;background:#dfeafe;"></div>
<div class="c" style="left:465.5px;top:939.94px;width:57.5px;height:24.54px;line-height:24.54px;font-size:13.4px;"><i>4-6-12</i></div>
<div class="r" style="left:523px;top:939.94px;width:52.7px;height:24.54px;line-height:24.54px;font-size:13.4px;"><i>25.0</i></div>
<div class="r" style="left:575.7px;top:939.94px;width:52.6px;height:24.54px;line-height:24.54px;font-size:13.4px;"><i>40.8</i></div>
<div class="r" style="left:628.3px;top:939.94px;width:53px;height:24.54px;line-height:24.54px;font-size:13.4px;"><i>2.4%</i></div>
<div style="left:465.5px;top:964.48px;width:215.8px;height:24.54px;background:#fff;"></div>
<div class="c" style="left:465.5px;top:964.48px;width:57.5px;height:24.54px;line-height:24.54px;font-size:13.4px;"><i>1-3-12</i></div>
<div class="r" style="left:523px;top:964.48px;width:52.7px;height:24.54px;line-height:24.54px;font-size:13.4px;"><i>23.4</i></div>
<div class="r" style="left:575.7px;top:964.48px;width:52.6px;height:24.54px;line-height:24.54px;font-size:13.4px;"><i>46.2</i></div>
<div class="r" style="left:628.3px;top:964.48px;width:53px;height:24.54px;line-height:24.54px;font-size:13.4px;"><i>2.2%</i></div>
<div style="left:465px;top:694.04px;width:216.8px;height:1px;background:#606060;"></div>
<div style="left:465px;top:718.58px;width:216.8px;height:1px;background:#606060;"></div>
<div style="left:465px;top:743.12px;width:216.8px;height:1px;background:#606060;"></div>
<div style="left:465px;top:767.66px;width:216.8px;height:1px;background:#606060;"></div>
<div style="left:465px;top:792.2px;width:216.8px;height:1px;background:#606060;"></div>
<div style="left:465px;top:816.74px;width:216.8px;height:1px;background:#606060;"></div>
<div style="left:465px;top:841.28px;width:216.8px;height:1px;background:#606060;"></div>
<div style="left:465px;top:865.82px;width:216.8px;height:1px;background:#606060;"></div>
<div style="left:465px;top:890.36px;width:216.8px;height:1px;background:#606060;"></div>
<div style="left:465px;top:914.9px;width:216.8px;height:1px;background:#606060;"></div>
<div style="left:465px;top:939.44px;width:216.8px;height:1px;background:#606060;"></div>
<div style="left:465px;top:963.98px;width:216.8px;height:1px;background:#606060;"></div>
<div style="left:522.5px;top:649px;width:1px;height:21.5px;background:#16233f;"></div>
<div style="left:522.5px;top:669.5px;width:1px;height:320.02px;background:#606060;"></div>
<div style="left:575.2px;top:649px;width:1px;height:21.5px;background:#16233f;"></div>
<div style="left:575.2px;top:669.5px;width:1px;height:320.02px;background:#606060;"></div>
<div style="left:627.8px;top:649px;width:1px;height:21.5px;background:#16233f;"></div>
<div style="left:627.8px;top:669.5px;width:1px;height:320.02px;background:#606060;"></div>
<div style="left:465px;top:669.5px;width:216.8px;height:1px;background:#2a2a2a;"></div>
<div style="left:465px;top:649px;width:216.8px;height:1px;background:#3a3a3a;"></div>
<div style="left:465px;top:618.5px;width:216.8px;height:1px;background:#606060;"></div>
<div style="left:465px;top:988.52px;width:216.8px;height:1px;background:#606060;"></div>
<div style="left:465px;top:618.5px;width:1px;height:371.02px;background:#606060;"></div>
<div style="left:680.8px;top:618.5px;width:1px;height:371.02px;background:#606060;"></div>
<div style="left:5px;top:1026.3px;width:677px;height:25px;background:#203864;line-height:25px;font-size:20.4px;font-weight:bold;color:#fff;padding-left:1px;">競馬クラスター<u style="width:26.52px"><b style="transform:scaleX(1.3);">AI</b></u>　和の買い目分析</div>
<div style="left:6px;top:1053px;width:300px;height:22px;line-height:22px;font-size:14.6px;color:#363636;">レース数：<i>1062</i></div>
<div class="cap" style="left:5.5px;top:1079.3px;width:219px;height:29.7px;background:#fff;line-height:27.3px;font-size:15px;"><s></s>和の買い目（馬連）</div>
<div style="left:5.5px;top:1109px;width:219px;height:52px;background:#203864;"></div>
<div class="h" style="left:5.5px;top:1109px;width:109.5px;height:52px;line-height:20.3px;font-size:13.5px;font-weight:bold;padding-top:5.4px;"><u style="width:11.26px"><b style="font-size:1.1em;">C</b></u>人気<br>合計値</div>
<div class="h" style="left:115px;top:1109px;width:109.5px;height:52px;line-height:52px;font-size:13.5px;font-weight:bold;">出現率</div>
<div style="left:5.5px;top:1161px;width:219px;height:24.54px;background:#fff;"></div>
<div class="c" style="left:5.5px;top:1161px;width:109.5px;height:24.54px;line-height:24.54px;font-size:13.4px;"><i>3</i></div>
<div class="r" style="left:115px;top:1161px;width:109.5px;height:24.54px;line-height:24.54px;font-size:13.4px;"><i>18.7%</i></div>
<div style="left:5.5px;top:1185.54px;width:219px;height:24.54px;background:#dfeafe;"></div>
<div class="c" style="left:5.5px;top:1185.54px;width:109.5px;height:24.54px;line-height:24.54px;font-size:13.4px;"><i>4</i></div>
<div class="r" style="left:115px;top:1185.54px;width:109.5px;height:24.54px;line-height:24.54px;font-size:13.4px;"><i>15.0%</i></div>
<div style="left:5.5px;top:1210.08px;width:219px;height:24.54px;background:#fff;"></div>
<div class="c" style="left:5.5px;top:1210.08px;width:109.5px;height:24.54px;line-height:24.54px;font-size:13.4px;"><i>5</i></div>
<div class="r" style="left:115px;top:1210.08px;width:109.5px;height:24.54px;line-height:24.54px;font-size:13.4px;"><i>14.1%</i></div>
<div style="left:5.5px;top:1234.62px;width:219px;height:24.54px;background:#dfeafe;"></div>
<div class="c" style="left:5.5px;top:1234.62px;width:109.5px;height:24.54px;line-height:24.54px;font-size:13.4px;"><i>6</i></div>
<div class="r" style="left:115px;top:1234.62px;width:109.5px;height:24.54px;line-height:24.54px;font-size:13.4px;"><i>10.7%</i></div>
<div style="left:5.5px;top:1259.16px;width:219px;height:24.54px;background:#fff;"></div>
<div class="c" style="left:5.5px;top:1259.16px;width:109.5px;height:24.54px;line-height:24.54px;font-size:13.4px;"><i>7</i></div>
<div class="r" style="left:115px;top:1259.16px;width:109.5px;height:24.54px;line-height:24.54px;font-size:13.4px;"><i>11.1%</i></div>
<div style="left:5.5px;top:1283.7px;width:219px;height:24.54px;background:#dfeafe;"></div>
<div class="c" style="left:5.5px;top:1283.7px;width:109.5px;height:24.54px;line-height:24.54px;font-size:13.4px;"><i>8</i></div>
<div class="r" style="left:115px;top:1283.7px;width:109.5px;height:24.54px;line-height:24.54px;font-size:13.4px;"><i>7.0%</i></div>
<div style="left:5.5px;top:1308.24px;width:219px;height:24.54px;background:#fff;"></div>
<div class="c" style="left:5.5px;top:1308.24px;width:109.5px;height:24.54px;line-height:24.54px;font-size:13.4px;"><i>9</i></div>
<div class="r" style="left:115px;top:1308.24px;width:109.5px;height:24.54px;line-height:24.54px;font-size:13.4px;"><i>6.4%</i></div>
<div style="left:5.5px;top:1332.78px;width:219px;height:24.54px;background:#dfeafe;"></div>
<div class="c" style="left:5.5px;top:1332.78px;width:109.5px;height:24.54px;line-height:24.54px;font-size:13.4px;"><i>10</i></div>
<div class="r" style="left:115px;top:1332.78px;width:109.5px;height:24.54px;line-height:24.54px;font-size:13.4px;"><i>4.7%</i></div>
<div style="left:5.5px;top:1357.32px;width:219px;height:24.54px;background:#ffd9a6;"></div>
<div class="c" style="left:5.5px;top:1357.32px;width:109.5px;height:24.54px;line-height:24.54px;font-size:13.4px;"><i>11</i></div>
<div class="r" style="left:115px;top:1357.32px;width:109.5px;height:24.54px;line-height:24.54px;font-size:13.4px;"><i>5.3%</i></div>
<div style="left:5.5px;top:1381.86px;width:219px;height:24.54px;background:#dfeafe;"></div>
<div class="c" style="left:5.5px;top:1381.86px;width:109.5px;height:24.54px;line-height:24.54px;font-size:13.4px;"><i>12</i></div>
<div class="r" style="left:115px;top:1381.86px;width:109.5px;height:24.54px;line-height:24.54px;font-size:13.4px;"><i>2.5%</i></div>
<div style="left:5.5px;top:1406.4px;width:219px;height:24.54px;background:#fff;"></div>
<div class="c" style="left:5.5px;top:1406.4px;width:109.5px;height:24.54px;line-height:24.54px;font-size:13.4px;"><i>13</i></div>
<div class="r" style="left:115px;top:1406.4px;width:109.5px;height:24.54px;line-height:24.54px;font-size:13.4px;"><i>1.6%</i></div>
<div style="left:5.5px;top:1430.94px;width:219px;height:24.54px;background:#dfeafe;"></div>
<div class="c" style="left:5.5px;top:1430.94px;width:109.5px;height:24.54px;line-height:24.54px;font-size:13.4px;"><i>14</i></div>
<div class="r" style="left:115px;top:1430.94px;width:109.5px;height:24.54px;line-height:24.54px;font-size:13.4px;"><i>0.8%</i></div>
<div style="left:5.5px;top:1455.48px;width:219px;height:24.54px;background:#fff;"></div>
<div class="c" style="left:5.5px;top:1455.48px;width:109.5px;height:24.54px;line-height:24.54px;font-size:13.4px;"><i>15</i>以上</div>
<div class="r" style="left:115px;top:1455.48px;width:109.5px;height:24.54px;line-height:24.54px;font-size:13.4px;"><i>2.1%</i></div>
<div style="left:5px;top:1185.04px;width:220px;height:1px;background:#606060;"></div>
<div style="left:5px;top:1209.58px;width:220px;height:1px;background:#606060;"></div>
<div style="left:5px;top:1234.12px;width:220px;height:1px;background:#606060;"></div>
<div style="left:5px;top:1258.66px;width:220px;height:1px;background:#606060;"></div>
<div style="left:5px;top:1283.2px;width:220px;height:1px;background:#606060;"></div>
<div style="left:5px;top:1307.74px;width:220px;height:1px;background:#606060;"></div>
<div style="left:5px;top:1332.28px;width:220px;height:1px;background:#606060;"></div>
<div style="left:5px;top:1356.82px;width:220px;height:1px;background:#606060;"></div>
<div style="left:5px;top:1381.36px;width:220px;height:1px;background:#606060;"></div>
<div style="left:5px;top:1405.9px;width:220px;height:1px;background:#606060;"></div>
<div style="left:5px;top:1430.44px;width:220px;height:1px;background:#606060;"></div>
<div style="left:5px;top:1454.98px;width:220px;height:1px;background:#606060;"></div>
<div style="left:114.5px;top:1108.5px;width:1px;height:53px;background:#16233f;"></div>
<div style="left:114.5px;top:1160.5px;width:1px;height:320.02px;background:#606060;"></div>
<div style="left:5px;top:1160.5px;width:220px;height:1px;background:#2a2a2a;"></div>
<div style="left:5px;top:1108.5px;width:220px;height:1px;background:#3a3a3a;"></div>
<div style="left:5px;top:1078.8px;width:220px;height:1px;background:#606060;"></div>
<div style="left:5px;top:1479.52px;width:220px;height:1px;background:#606060;"></div>
<div style="left:5px;top:1078.8px;width:1px;height:401.72px;background:#606060;"></div>
<div style="left:224px;top:1078.8px;width:1px;height:401.72px;background:#606060;"></div>
<div class="cap" style="left:234.5px;top:1079.3px;width:218.5px;height:29.7px;background:#fff;line-height:27.3px;font-size:15px;"><s></s>和の買い目（ワイド）</div>
<div style="left:234.5px;top:1109px;width:218.5px;height:52px;background:#203864;"></div>
<div class="h" style="left:234.5px;top:1109px;width:109.5px;height:52px;line-height:20.3px;font-size:13.5px;font-weight:bold;padding-top:5.4px;"><u style="width:11.26px"><b style="font-size:1.1em;">C</b></u>人気<br>合計値</div>
<div class="h" style="left:344px;top:1109px;width:109px;height:52px;line-height:52px;font-size:13.5px;font-weight:bold;">出現率</div>
<div style="left:234.5px;top:1161px;width:218.5px;height:24.54px;background:#fff;"></div>
<div class="c" style="left:234.5px;top:1161px;width:109.5px;height:24.54px;line-height:24.54px;font-size:13.4px;"><i>3</i></div>
<div class="r" style="left:344px;top:1161px;width:109px;height:24.54px;line-height:24.54px;font-size:13.4px;"><i>36.3%</i></div>
<div style="left:234.5px;top:1185.54px;width:218.5px;height:24.54px;background:#dfeafe;"></div>
<div class="c" style="left:234.5px;top:1185.54px;width:109.5px;height:24.54px;line-height:24.54px;font-size:13.4px;"><i>4</i></div>
<div class="r" style="left:344px;top:1185.54px;width:109px;height:24.54px;line-height:24.54px;font-size:13.4px;"><i>30.6%</i></div>
<div style="left:234.5px;top:1210.08px;width:218.5px;height:24.54px;background:#fff;"></div>
<div class="c" style="left:234.5px;top:1210.08px;width:109.5px;height:24.54px;line-height:24.54px;font-size:13.4px;"><i>5</i></div>
<div class="r" style="left:344px;top:1210.08px;width:109px;height:24.54px;line-height:24.54px;font-size:13.4px;"><i>38.3%</i></div>
<div style="left:234.5px;top:1234.62px;width:218.5px;height:24.54px;background:#dfeafe;"></div>
<div class="c" style="left:234.5px;top:1234.62px;width:109.5px;height:24.54px;line-height:24.54px;font-size:13.4px;"><i>6</i></div>
<div class="r" style="left:344px;top:1234.62px;width:109px;height:24.54px;line-height:24.54px;font-size:13.4px;"><i>31.2%</i></div>
<div style="left:234.5px;top:1259.16px;width:218.5px;height:24.54px;background:#fff;"></div>
<div class="c" style="left:234.5px;top:1259.16px;width:109.5px;height:24.54px;line-height:24.54px;font-size:13.4px;"><i>7</i></div>
<div class="r" style="left:344px;top:1259.16px;width:109px;height:24.54px;line-height:24.54px;font-size:13.4px;"><i>32.3%</i></div>
<div style="left:234.5px;top:1283.7px;width:218.5px;height:24.54px;background:#dfeafe;"></div>
<div class="c" style="left:234.5px;top:1283.7px;width:109.5px;height:24.54px;line-height:24.54px;font-size:13.4px;"><i>8</i></div>
<div class="r" style="left:344px;top:1283.7px;width:109px;height:24.54px;line-height:24.54px;font-size:13.4px;"><i>26.8%</i></div>
<div style="left:234.5px;top:1308.24px;width:218.5px;height:24.54px;background:#fff;"></div>
<div class="c" style="left:234.5px;top:1308.24px;width:109.5px;height:24.54px;line-height:24.54px;font-size:13.4px;"><i>9</i></div>
<div class="r" style="left:344px;top:1308.24px;width:109px;height:24.54px;line-height:24.54px;font-size:13.4px;"><i>25.5%</i></div>
<div style="left:234.5px;top:1332.78px;width:218.5px;height:24.54px;background:#dfeafe;"></div>
<div class="c" style="left:234.5px;top:1332.78px;width:109.5px;height:24.54px;line-height:24.54px;font-size:13.4px;"><i>10</i></div>
<div class="r" style="left:344px;top:1332.78px;width:109px;height:24.54px;line-height:24.54px;font-size:13.4px;"><i>18.8%</i></div>
<div style="left:234.5px;top:1357.32px;width:218.5px;height:24.54px;background:#fff;"></div>
<div class="c" style="left:234.5px;top:1357.32px;width:109.5px;height:24.54px;line-height:24.54px;font-size:13.4px;"><i>11</i></div>
<div class="r" style="left:344px;top:1357.32px;width:109px;height:24.54px;line-height:24.54px;font-size:13.4px;"><i>18.1%</i></div>
<div style="left:234.5px;top:1381.86px;width:218.5px;height:24.54px;background:#dfeafe;"></div>
<div class="c" style="left:234.5px;top:1381.86px;width:109.5px;height:24.54px;line-height:24.54px;font-size:13.4px;"><i>12</i></div>
<div class="r" style="left:344px;top:1381.86px;width:109px;height:24.54px;line-height:24.54px;font-size:13.4px;"><i>11.7%</i></div>
<div style="left:234.5px;top:1406.4px;width:218.5px;height:24.54px;background:#fff;"></div>
<div class="c" style="left:234.5px;top:1406.4px;width:109.5px;height:24.54px;line-height:24.54px;font-size:13.4px;"><i>13</i></div>
<div class="r" style="left:344px;top:1406.4px;width:109px;height:24.54px;line-height:24.54px;font-size:13.4px;"><i>10.5%</i></div>
<div style="left:234.5px;top:1430.94px;width:218.5px;height:24.54px;background:#dfeafe;"></div>
<div class="c" style="left:234.5px;top:1430.94px;width:109.5px;height:24.54px;line-height:24.54px;font-size:13.4px;"><i>14</i></div>
<div class="r" style="left:344px;top:1430.94px;width:109px;height:24.54px;line-height:24.54px;font-size:13.4px;"><i>5.9%</i></div>
<div style="left:234.5px;top:1455.48px;width:218.5px;height:24.54px;background:#fff;"></div>
<div class="c" style="left:234.5px;top:1455.48px;width:109.5px;height:24.54px;line-height:24.54px;font-size:13.4px;"><i>15</i>以上</div>
<div class="r" style="left:344px;top:1455.48px;width:109px;height:24.54px;line-height:24.54px;font-size:13.4px;"><i>13.0%</i></div>
<div style="left:234px;top:1185.04px;width:219.5px;height:1px;background:#606060;"></div>
<div style="left:234px;top:1209.58px;width:219.5px;height:1px;background:#606060;"></div>
<div style="left:234px;top:1234.12px;width:219.5px;height:1px;background:#606060;"></div>
<div style="left:234px;top:1258.66px;width:219.5px;height:1px;background:#606060;"></div>
<div style="left:234px;top:1283.2px;width:219.5px;height:1px;background:#606060;"></div>
<div style="left:234px;top:1307.74px;width:219.5px;height:1px;background:#606060;"></div>
<div style="left:234px;top:1332.28px;width:219.5px;height:1px;background:#606060;"></div>
<div style="left:234px;top:1356.82px;width:219.5px;height:1px;background:#606060;"></div>
<div style="left:234px;top:1381.36px;width:219.5px;height:1px;background:#606060;"></div>
<div style="left:234px;top:1405.9px;width:219.5px;height:1px;background:#606060;"></div>
<div style="left:234px;top:1430.44px;width:219.5px;height:1px;background:#606060;"></div>
<div style="left:234px;top:1454.98px;width:219.5px;height:1px;background:#606060;"></div>
<div style="left:343.5px;top:1108.5px;width:1px;height:53px;background:#16233f;"></div>
<div style="left:343.5px;top:1160.5px;width:1px;height:320.02px;background:#606060;"></div>
<div style="left:234px;top:1160.5px;width:219.5px;height:1px;background:#2a2a2a;"></div>
<div style="left:234px;top:1108.5px;width:219.5px;height:1px;background:#3a3a3a;"></div>
<div style="left:234px;top:1078.8px;width:219.5px;height:1px;background:#606060;"></div>
<div style="left:234px;top:1479.52px;width:219.5px;height:1px;background:#606060;"></div>
<div style="left:234px;top:1078.8px;width:1px;height:401.72px;background:#606060;"></div>
<div style="left:452.5px;top:1078.8px;width:1px;height:401.72px;background:#606060;"></div>
<div class="cap" style="left:462.3px;top:1079.3px;width:219px;height:29.7px;background:#fff;line-height:27.3px;font-size:15px;"><s></s>和の買い目（<i>3</i>連複）</div>
<div style="left:462.3px;top:1109px;width:219px;height:52px;background:#203864;"></div>
<div class="h" style="left:462.3px;top:1109px;width:110px;height:52px;line-height:20.3px;font-size:13.5px;font-weight:bold;padding-top:5.4px;"><u style="width:11.26px"><b style="font-size:1.1em;">C</b></u>人気<br>合計値</div>
<div class="h" style="left:572.3px;top:1109px;width:109px;height:52px;line-height:52px;font-size:13.5px;font-weight:bold;">出現率</div>
<div style="left:462.3px;top:1161px;width:219px;height:24.54px;background:#fff;"></div>
<div class="c" style="left:462.3px;top:1161px;width:110px;height:24.54px;line-height:24.54px;font-size:13.4px;"><i>6</i></div>
<div class="r" style="left:572.3px;top:1161px;width:109px;height:24.54px;line-height:24.54px;font-size:13.4px;"><i>9.4%</i></div>
<div style="left:462.3px;top:1185.54px;width:219px;height:24.54px;background:#dfeafe;"></div>
<div class="c" style="left:462.3px;top:1185.54px;width:110px;height:24.54px;line-height:24.54px;font-size:13.4px;"><i>7</i></div>
<div class="r" style="left:572.3px;top:1185.54px;width:109px;height:24.54px;line-height:24.54px;font-size:13.4px;"><i>7.2%</i></div>
<div style="left:462.3px;top:1210.08px;width:219px;height:24.54px;background:#fff;"></div>
<div class="c" style="left:462.3px;top:1210.08px;width:110px;height:24.54px;line-height:24.54px;font-size:13.4px;"><i>8</i></div>
<div class="r" style="left:572.3px;top:1210.08px;width:109px;height:24.54px;line-height:24.54px;font-size:13.4px;"><i>11.9%</i></div>
<div style="left:462.3px;top:1234.62px;width:219px;height:24.54px;background:#dfeafe;"></div>
<div class="c" style="left:462.3px;top:1234.62px;width:110px;height:24.54px;line-height:24.54px;font-size:13.4px;"><i>9</i></div>
<div class="r" style="left:572.3px;top:1234.62px;width:109px;height:24.54px;line-height:24.54px;font-size:13.4px;"><i>9.8%</i></div>
<div style="left:462.3px;top:1259.16px;width:219px;height:24.54px;background:#fff;"></div>
<div class="c" style="left:462.3px;top:1259.16px;width:110px;height:24.54px;line-height:24.54px;font-size:13.4px;"><i>10</i></div>
<div class="r" style="left:572.3px;top:1259.16px;width:109px;height:24.54px;line-height:24.54px;font-size:13.4px;"><i>9.8%</i></div>
<div style="left:462.3px;top:1283.7px;width:219px;height:24.54px;background:#dfeafe;"></div>
<div class="c" style="left:462.3px;top:1283.7px;width:110px;height:24.54px;line-height:24.54px;font-size:13.4px;"><i>11</i></div>
<div class="r" style="left:572.3px;top:1283.7px;width:109px;height:24.54px;line-height:24.54px;font-size:13.4px;"><i>10.3%</i></div>
<div style="left:462.3px;top:1308.24px;width:219px;height:24.54px;background:#fff;"></div>
<div class="c" style="left:462.3px;top:1308.24px;width:110px;height:24.54px;line-height:24.54px;font-size:13.4px;"><i>12</i></div>
<div class="r" style="left:572.3px;top:1308.24px;width:109px;height:24.54px;line-height:24.54px;font-size:13.4px;"><i>8.8%</i></div>
<div style="left:462.3px;top:1332.78px;width:219px;height:24.54px;background:#dfeafe;"></div>
<div class="c" style="left:462.3px;top:1332.78px;width:110px;height:24.54px;line-height:24.54px;font-size:13.4px;"><i>13</i></div>
<div class="r" style="left:572.3px;top:1332.78px;width:109px;height:24.54px;line-height:24.54px;font-size:13.4px;"><i>6.9%</i></div>
<div style="left:462.3px;top:1357.32px;width:219px;height:24.54px;background:#fff;"></div>
<div class="c" style="left:462.3px;top:1357.32px;width:110px;height:24.54px;line-height:24.54px;font-size:13.4px;"><i>14</i></div>
<div class="r" style="left:572.3px;top:1357.32px;width:109px;height:24.54px;line-height:24.54px;font-size:13.4px;"><i>6.5%</i></div>
<div style="left:462.3px;top:1381.86px;width:219px;height:24.54px;background:#dfeafe;"></div>
<div class="c" style="left:462.3px;top:1381.86px;width:110px;height:24.54px;line-height:24.54px;font-size:13.4px;"><i>15</i></div>
<div class="r" style="left:572.3px;top:1381.86px;width:109px;height:24.54px;line-height:24.54px;font-size:13.4px;"><i>5.6%</i></div>
<div style="left:462.3px;top:1406.4px;width:219px;height:24.54px;background:#fff;"></div>
<div class="c" style="left:462.3px;top:1406.4px;width:110px;height:24.54px;line-height:24.54px;font-size:13.4px;"><i>16</i></div>
<div class="r" style="left:572.3px;top:1406.4px;width:109px;height:24.54px;line-height:24.54px;font-size:13.4px;"><i>4.3%</i></div>
<div style="left:462.3px;top:1430.94px;width:219px;height:24.54px;background:#dfeafe;"></div>
<div class="c" style="left:462.3px;top:1430.94px;width:110px;height:24.54px;line-height:24.54px;font-size:13.4px;"><i>17</i></div>
<div class="r" style="left:572.3px;top:1430.94px;width:109px;height:24.54px;line-height:24.54px;font-size:13.4px;"><i>2.1%</i></div>
<div style="left:462.3px;top:1455.48px;width:219px;height:24.54px;background:#ffd9a6;"></div>
<div class="c" style="left:462.3px;top:1455.48px;width:110px;height:24.54px;line-height:24.54px;font-size:13.4px;"><i>18</i>以上</div>
<div class="r" style="left:572.3px;top:1455.48px;width:109px;height:24.54px;line-height:24.54px;font-size:13.4px;"><i>7.3%</i></div>
<div style="left:461.8px;top:1185.04px;width:220px;height:1px;background:#606060;"></div>
<div style="left:461.8px;top:1209.58px;width:220px;height:1px;background:#606060;"></div>
<div style="left:461.8px;top:1234.12px;width:220px;height:1px;background:#606060;"></div>
<div style="left:461.8px;top:1258.66px;width:220px;height:1px;background:#606060;"></div>
<div style="left:461.8px;top:1283.2px;width:220px;height:1px;background:#606060;"></div>
<div style="left:461.8px;top:1307.74px;width:220px;height:1px;background:#606060;"></div>
<div style="left:461.8px;top:1332.28px;width:220px;height:1px;background:#606060;"></div>
<div style="left:461.8px;top:1356.82px;width:220px;height:1px;background:#606060;"></div>
<div style="left:461.8px;top:1381.36px;width:220px;height:1px;background:#606060;"></div>
<div style="left:461.8px;top:1405.9px;width:220px;height:1px;background:#606060;"></div>
<div style="left:461.8px;top:1430.44px;width:220px;height:1px;background:#606060;"></div>
<div style="left:461.8px;top:1454.98px;width:220px;height:1px;background:#606060;"></div>
<div style="left:571.8px;top:1108.5px;width:1px;height:53px;background:#16233f;"></div>
<div style="left:571.8px;top:1160.5px;width:1px;height:320.02px;background:#606060;"></div>
<div style="left:461.8px;top:1160.5px;width:220px;height:1px;background:#2a2a2a;"></div>
<div style="left:461.8px;top:1108.5px;width:220px;height:1px;background:#3a3a3a;"></div>
<div style="left:461.8px;top:1078.8px;width:220px;height:1px;background:#606060;"></div>
<div style="left:461.8px;top:1479.52px;width:220px;height:1px;background:#606060;"></div>
<div style="left:461.8px;top:1078.8px;width:1px;height:401.72px;background:#606060;"></div>
<div style="left:680.8px;top:1078.8px;width:1px;height:401.72px;background:#606060;"></div>
<div style="left:5px;top:1515px;width:677px;height:25px;background:#203864;line-height:25px;font-size:20.4px;font-weight:bold;color:#fff;padding-left:1px;">浦和ダ<u style="width:79.4px"><b style="transform:scaleX(1.25);">1400m</b></u> 過去レース分析</div>
<div class="cap" style="left:5.5px;top:1548.5px;width:675.8px;height:30.5px;background:#fff;line-height:28.1px;font-size:15px;"><s></s>枠順別成績　過去<i>10</i>年間　頭数：<i>12</i>頭</div>
<div style="left:5.5px;top:1579px;width:675.8px;height:31.2px;background:#203864;"></div>
<div class="h" style="left:5.5px;top:1579px;width:126.5px;height:31.2px;line-height:31.2px;font-size:13.5px;font-weight:bold;">枠順</div>
<div class="h" style="left:132px;top:1579px;width:211px;height:31.2px;line-height:31.2px;font-size:13.5px;font-weight:bold;">着別度数</div>
<div class="h" style="left:343px;top:1579px;width:84.5px;height:31.2px;line-height:31.2px;font-size:13.5px;font-weight:bold;">勝率</div>
<div class="h" style="left:427.5px;top:1579px;width:85px;height:31.2px;line-height:31.2px;font-size:13.5px;font-weight:bold;">連対率</div>
<div class="h" style="left:512.5px;top:1579px;width:85px;height:31.2px;line-height:31.2px;font-size:13.5px;font-weight:bold;">複勝率</div>
<div class="h" style="left:597.5px;top:1579px;width:83.8px;height:31.2px;line-height:31.2px;font-size:13.5px;font-weight:bold;">評価</div>
<div style="left:5.5px;top:1610.2px;width:675.8px;height:24.56px;background:#fff;"></div>
<div class="l s" style="left:5.5px;top:1610.2px;width:126.5px;height:24.56px;background:#f0f0f0;line-height:24.56px;font-size:13.5px;color:#000;"><i>1</i>枠</div>
<div class="l" style="left:132px;top:1610.2px;width:211px;height:24.56px;line-height:24.56px;font-size:13.4px;"><i>149-150-178-1480</i></div>
<div class="r" style="left:343px;top:1610.2px;width:84.5px;height:24.56px;line-height:24.56px;font-size:13.4px;"><i>7.6%</i></div>
<div class="r" style="left:427.5px;top:1610.2px;width:85px;height:24.56px;line-height:24.56px;font-size:13.4px;"><i>15.3%</i></div>
<div class="r" style="left:512.5px;top:1610.2px;width:85px;height:24.56px;line-height:24.56px;font-size:13.4px;"><i>24.4%</i></div>
<div class="c" style="left:597.5px;top:1610.2px;width:83.8px;height:24.56px;line-height:24.56px;font-size:13.4px;"><i>D</i></div>
<div style="left:5.5px;top:1634.76px;width:675.8px;height:24.56px;background:#dfeafe;"></div>
<div class="l s" style="left:5.5px;top:1634.76px;width:126.5px;height:24.56px;background:#000;line-height:24.56px;font-size:13.5px;color:#fff;"><i>2</i>枠</div>
<div class="l" style="left:132px;top:1634.76px;width:211px;height:24.56px;line-height:24.56px;font-size:13.4px;"><i>179-149-175-1456</i></div>
<div class="r" style="left:343px;top:1634.76px;width:84.5px;height:24.56px;line-height:24.56px;font-size:13.4px;"><i>9.1%</i></div>
<div class="r" style="left:427.5px;top:1634.76px;width:85px;height:24.56px;line-height:24.56px;font-size:13.4px;"><i>16.7%</i></div>
<div class="r" style="left:512.5px;top:1634.76px;width:85px;height:24.56px;line-height:24.56px;font-size:13.4px;"><i>25.7%</i></div>
<div class="c" style="left:597.5px;top:1634.76px;width:83.8px;height:24.56px;line-height:24.56px;font-size:13.4px;"><i>D</i></div>
<div style="left:5.5px;top:1659.32px;width:675.8px;height:24.56px;background:#fff;"></div>
<div class="l s" style="left:5.5px;top:1659.32px;width:126.5px;height:24.56px;background:#ec4033;line-height:24.56px;font-size:13.5px;color:#fff;"><i>3</i>枠</div>
<div class="l" style="left:132px;top:1659.32px;width:211px;height:24.56px;line-height:24.56px;font-size:13.4px;"><i>173-157-163-1464</i></div>
<div class="r" style="left:343px;top:1659.32px;width:84.5px;height:24.56px;line-height:24.56px;font-size:13.4px;"><i>8.8%</i></div>
<div class="r" style="left:427.5px;top:1659.32px;width:85px;height:24.56px;line-height:24.56px;font-size:13.4px;"><i>16.9%</i></div>
<div class="r" style="left:512.5px;top:1659.32px;width:85px;height:24.56px;line-height:24.56px;font-size:13.4px;"><i>25.2%</i></div>
<div class="c" style="left:597.5px;top:1659.32px;width:83.8px;height:24.56px;line-height:24.56px;font-size:13.4px;"><i>D</i></div>
<div style="left:5.5px;top:1683.88px;width:675.8px;height:24.56px;background:#dfeafe;"></div>
<div class="l s" style="left:5.5px;top:1683.88px;width:126.5px;height:24.56px;background:#4585f4;line-height:24.56px;font-size:13.5px;color:#fff;"><i>4</i>枠</div>
<div class="l" style="left:132px;top:1683.88px;width:211px;height:24.56px;line-height:24.56px;font-size:13.4px;"><i>169-172-195-1412</i></div>
<div class="r" style="left:343px;top:1683.88px;width:84.5px;height:24.56px;line-height:24.56px;font-size:13.4px;"><i>8.7%</i></div>
<div class="r" style="left:427.5px;top:1683.88px;width:85px;height:24.56px;line-height:24.56px;font-size:13.4px;"><i>17.5%</i></div>
<div class="r" style="left:512.5px;top:1683.88px;width:85px;height:24.56px;line-height:24.56px;font-size:13.4px;"><i>27.5%</i></div>
<div class="c" style="left:597.5px;top:1683.88px;width:83.8px;height:24.56px;line-height:24.56px;font-size:13.4px;"><i>D</i></div>
<div style="left:5.5px;top:1708.44px;width:675.8px;height:24.56px;background:#fff;"></div>
<div class="l s" style="left:5.5px;top:1708.44px;width:126.5px;height:24.56px;background:#f5cc06;line-height:24.56px;font-size:13.5px;color:#000;"><i>5</i>枠</div>
<div class="l" style="left:132px;top:1708.44px;width:211px;height:24.56px;line-height:24.56px;font-size:13.4px;"><i>346-329-319-2925</i></div>
<div class="r" style="left:343px;top:1708.44px;width:84.5px;height:24.56px;line-height:24.56px;font-size:13.4px;"><i>8.8%</i></div>
<div class="r" style="left:427.5px;top:1708.44px;width:85px;height:24.56px;line-height:24.56px;font-size:13.4px;"><i>17.2%</i></div>
<div class="r" style="left:512.5px;top:1708.44px;width:85px;height:24.56px;line-height:24.56px;font-size:13.4px;"><i>25.4%</i></div>
<div class="c" style="left:597.5px;top:1708.44px;width:83.8px;height:24.56px;line-height:24.56px;font-size:13.4px;"><i>D</i></div>
<div style="left:5.5px;top:1733px;width:675.8px;height:24.56px;background:#dfeafe;"></div>
<div class="l s" style="left:5.5px;top:1733px;width:126.5px;height:24.56px;background:#22aa3a;line-height:24.56px;font-size:13.5px;color:#fff;"><i>6</i>枠</div>
<div class="l" style="left:132px;top:1733px;width:211px;height:24.56px;line-height:24.56px;font-size:13.4px;"><i>319-354-312-2938</i></div>
<div class="r" style="left:343px;top:1733px;width:84.5px;height:24.56px;line-height:24.56px;font-size:13.4px;"><i>8.1%</i></div>
<div class="r" style="left:427.5px;top:1733px;width:85px;height:24.56px;line-height:24.56px;font-size:13.4px;"><i>17.2%</i></div>
<div class="r" style="left:512.5px;top:1733px;width:85px;height:24.56px;line-height:24.56px;font-size:13.4px;"><i>25.1%</i></div>
<div class="c" style="left:597.5px;top:1733px;width:83.8px;height:24.56px;line-height:24.56px;font-size:13.4px;"><i>D</i></div>
<div style="left:5.5px;top:1757.56px;width:675.8px;height:24.56px;background:#fff;"></div>
<div class="l s" style="left:5.5px;top:1757.56px;width:126.5px;height:24.56px;background:#e8971a;line-height:24.56px;font-size:13.5px;color:#fff;"><i>7</i>枠</div>
<div class="l" style="left:132px;top:1757.56px;width:211px;height:24.56px;line-height:24.56px;font-size:13.4px;"><i>305-324-298-2988</i></div>
<div class="r" style="left:343px;top:1757.56px;width:84.5px;height:24.56px;line-height:24.56px;font-size:13.4px;"><i>7.8%</i></div>
<div class="r" style="left:427.5px;top:1757.56px;width:85px;height:24.56px;line-height:24.56px;font-size:13.4px;"><i>16.1%</i></div>
<div class="r" style="left:512.5px;top:1757.56px;width:85px;height:24.56px;line-height:24.56px;font-size:13.4px;"><i>23.7%</i></div>
<div class="c" style="left:597.5px;top:1757.56px;width:83.8px;height:24.56px;line-height:24.56px;font-size:13.4px;"><i>D</i></div>
<div style="left:5.5px;top:1782.12px;width:675.8px;height:24.56px;background:#dfeafe;"></div>
<div class="l s" style="left:5.5px;top:1782.12px;width:126.5px;height:24.56px;background:#e4509a;line-height:24.56px;font-size:13.5px;color:#fff;"><i>8</i>枠</div>
<div class="l" style="left:132px;top:1782.12px;width:211px;height:24.56px;line-height:24.56px;font-size:13.4px;"><i>332-332-332-2927</i></div>
<div class="r" style="left:343px;top:1782.12px;width:84.5px;height:24.56px;line-height:24.56px;font-size:13.4px;"><i>8.5%</i></div>
<div class="r" style="left:427.5px;top:1782.12px;width:85px;height:24.56px;line-height:24.56px;font-size:13.4px;"><i>16.9%</i></div>
<div class="r" style="left:512.5px;top:1782.12px;width:85px;height:24.56px;line-height:24.56px;font-size:13.4px;"><i>25.4%</i></div>
<div class="c" style="left:597.5px;top:1782.12px;width:83.8px;height:24.56px;line-height:24.56px;font-size:13.4px;"><i>D</i></div>
<div style="left:5px;top:1634.26px;width:676.8px;height:1px;background:#606060;"></div>
<div style="left:5px;top:1658.82px;width:676.8px;height:1px;background:#606060;"></div>
<div style="left:5px;top:1683.38px;width:676.8px;height:1px;background:#606060;"></div>
<div style="left:5px;top:1707.94px;width:676.8px;height:1px;background:#606060;"></div>
<div style="left:5px;top:1732.5px;width:676.8px;height:1px;background:#606060;"></div>
<div style="left:5px;top:1757.06px;width:676.8px;height:1px;background:#606060;"></div>
<div style="left:5px;top:1781.62px;width:676.8px;height:1px;background:#606060;"></div>
<div style="left:131.5px;top:1578.5px;width:1px;height:32.2px;background:#16233f;"></div>
<div style="left:131.5px;top:1609.7px;width:1px;height:197.48px;background:#606060;"></div>
<div style="left:342.5px;top:1578.5px;width:1px;height:32.2px;background:#16233f;"></div>
<div style="left:342.5px;top:1609.7px;width:1px;height:197.48px;background:#606060;"></div>
<div style="left:427px;top:1578.5px;width:1px;height:32.2px;background:#16233f;"></div>
<div style="left:427px;top:1609.7px;width:1px;height:197.48px;background:#606060;"></div>
<div style="left:512px;top:1578.5px;width:1px;height:32.2px;background:#16233f;"></div>
<div style="left:512px;top:1609.7px;width:1px;height:197.48px;background:#606060;"></div>
<div style="left:597px;top:1578.5px;width:1px;height:32.2px;background:#16233f;"></div>
<div style="left:597px;top:1609.7px;width:1px;height:197.48px;background:#606060;"></div>
<div style="left:5px;top:1609.7px;width:676.8px;height:1px;background:#2a2a2a;"></div>
<div style="left:5px;top:1578.5px;width:676.8px;height:1px;background:#3a3a3a;"></div>
<div style="left:5px;top:1548px;width:676.8px;height:1px;background:#606060;"></div>
<div style="left:5px;top:1806.18px;width:676.8px;height:1px;background:#606060;"></div>
<div style="left:5px;top:1548px;width:1px;height:259.18px;background:#606060;"></div>
<div style="left:680.8px;top:1548px;width:1px;height:259.18px;background:#606060;"></div>
<div class="cap" style="left:5.5px;top:1825px;width:675.8px;height:29px;background:#fff;line-height:26.6px;font-size:15px;"><s></s>騎手別成績　過去<i>5</i>年　頭数指定なし</div>
<div style="left:5.5px;top:1854px;width:675.8px;height:31.3px;background:#203864;"></div>
<div class="h" style="left:5.5px;top:1854px;width:40.5px;height:31.3px;line-height:31.3px;font-size:13.5px;font-weight:bold;">馬番</div>
<div class="h" style="left:46px;top:1854px;width:127px;height:31.3px;line-height:31.3px;font-size:13.5px;font-weight:bold;">騎手</div>
<div class="h" style="left:173px;top:1854px;width:170px;height:31.3px;line-height:31.3px;font-size:13.5px;font-weight:bold;">着別度数</div>
<div class="h" style="left:343px;top:1854px;width:84.5px;height:31.3px;line-height:31.3px;font-size:13.5px;font-weight:bold;">勝率</div>
<div class="h" style="left:427.5px;top:1854px;width:85px;height:31.3px;line-height:31.3px;font-size:13.5px;font-weight:bold;">連対率</div>
<div class="h" style="left:512.5px;top:1854px;width:85px;height:31.3px;line-height:31.3px;font-size:13.5px;font-weight:bold;">複勝率</div>
<div class="h" style="left:597.5px;top:1854px;width:83.8px;height:31.3px;line-height:31.3px;font-size:13.5px;font-weight:bold;">評価</div>
<div style="left:5.5px;top:1885.3px;width:675.8px;height:24.56px;background:#fff;"></div>
<div class="c" style="left:5.5px;top:1885.3px;width:40.5px;height:24.56px;background:#f0f0f0;line-height:24.56px;font-size:13.4px;color:#000;"><i>1</i></div>
<div class="l" style="left:46px;top:1885.3px;width:127px;height:24.56px;line-height:24.56px;font-size:13.4px;">桑村真明</div>
<div class="l" style="left:173px;top:1885.3px;width:170px;height:24.56px;line-height:24.56px;font-size:13.4px;"><i>5-2-3-14</i></div>
<div class="r" style="left:343px;top:1885.3px;width:84.5px;height:24.56px;background:#fce0d2;line-height:24.56px;font-size:13.4px;"><i>20.8%</i></div>
<div class="r" style="left:427.5px;top:1885.3px;width:85px;height:24.56px;line-height:24.56px;font-size:13.4px;"><i>29.2%</i></div>
<div class="r" style="left:512.5px;top:1885.3px;width:85px;height:24.56px;line-height:24.56px;font-size:13.4px;"><i>41.7%</i></div>
<div class="c" style="left:597.5px;top:1885.3px;width:83.8px;height:24.56px;line-height:24.56px;font-size:13.4px;"><i>B</i></div>
<div style="left:5.5px;top:1909.86px;width:675.8px;height:24.56px;background:#dfeafe;"></div>
<div class="c" style="left:5.5px;top:1909.86px;width:40.5px;height:24.56px;background:#000;line-height:24.56px;font-size:13.4px;color:#fff;"><i>2</i></div>
<div class="l" style="left:46px;top:1909.86px;width:127px;height:24.56px;line-height:24.56px;font-size:13.4px;">半沢慶実</div>
<div class="l" style="left:173px;top:1909.86px;width:170px;height:24.56px;line-height:24.56px;font-size:13.4px;"><i>22-20-23-440</i></div>
<div class="r" style="left:343px;top:1909.86px;width:84.5px;height:24.56px;line-height:24.56px;font-size:13.4px;"><i>4.4%</i></div>
<div class="r" style="left:427.5px;top:1909.86px;width:85px;height:24.56px;line-height:24.56px;font-size:13.4px;"><i>8.3%</i></div>
<div class="r" style="left:512.5px;top:1909.86px;width:85px;height:24.56px;line-height:24.56px;font-size:13.4px;"><i>12.9%</i></div>
<div class="c" style="left:597.5px;top:1909.86px;width:83.8px;height:24.56px;line-height:24.56px;font-size:13.4px;"><i>D</i></div>
<div style="left:5.5px;top:1934.42px;width:675.8px;height:24.56px;background:#fff;"></div>
<div class="c" style="left:5.5px;top:1934.42px;width:40.5px;height:24.56px;background:#ec4033;line-height:24.56px;font-size:13.4px;color:#fff;"><i>3</i></div>
<div class="l" style="left:46px;top:1934.42px;width:127px;height:24.56px;line-height:24.56px;font-size:13.4px;">秋元耕成</div>
<div class="l" style="left:173px;top:1934.42px;width:170px;height:24.56px;line-height:24.56px;font-size:13.4px;"><i>50-62-55-752</i></div>
<div class="r" style="left:343px;top:1934.42px;width:84.5px;height:24.56px;line-height:24.56px;font-size:13.4px;"><i>5.4%</i></div>
<div class="r" style="left:427.5px;top:1934.42px;width:85px;height:24.56px;line-height:24.56px;font-size:13.4px;"><i>12.2%</i></div>
<div class="r" style="left:512.5px;top:1934.42px;width:85px;height:24.56px;line-height:24.56px;font-size:13.4px;"><i>18.2%</i></div>
<div class="c" style="left:597.5px;top:1934.42px;width:83.8px;height:24.56px;line-height:24.56px;font-size:13.4px;"><i>D</i></div>
<div style="left:5.5px;top:1958.98px;width:675.8px;height:24.56px;background:#dfeafe;"></div>
<div class="c" style="left:5.5px;top:1958.98px;width:40.5px;height:24.56px;background:#4585f4;line-height:24.56px;font-size:13.4px;color:#fff;"><i>4</i></div>
<div class="l" style="left:46px;top:1958.98px;width:127px;height:24.56px;line-height:24.56px;font-size:13.4px;">加藤和博</div>
<div class="l" style="left:173px;top:1958.98px;width:170px;height:24.56px;line-height:24.56px;font-size:13.4px;"><i>29-35-48-384</i></div>
<div class="r" style="left:343px;top:1958.98px;width:84.5px;height:24.56px;line-height:24.56px;font-size:13.4px;"><i>5.8%</i></div>
<div class="r" style="left:427.5px;top:1958.98px;width:85px;height:24.56px;line-height:24.56px;font-size:13.4px;"><i>12.9%</i></div>
<div class="r" style="left:512.5px;top:1958.98px;width:85px;height:24.56px;line-height:24.56px;font-size:13.4px;"><i>22.6%</i></div>
<div class="c" style="left:597.5px;top:1958.98px;width:83.8px;height:24.56px;line-height:24.56px;font-size:13.4px;"><i>D</i></div>
<div style="left:5.5px;top:1983.54px;width:675.8px;height:24.56px;background:#fff;"></div>
<div class="c" style="left:5.5px;top:1983.54px;width:40.5px;height:24.56px;background:#f5cc06;line-height:24.56px;font-size:13.4px;color:#000;"><i>5</i></div>
<div class="l" style="left:46px;top:1983.54px;width:127px;height:24.56px;line-height:24.56px;font-size:13.4px;">七夕裕次</div>
<div class="l" style="left:173px;top:1983.54px;width:170px;height:24.56px;line-height:24.56px;font-size:13.4px;"><i>34-52-49-508</i></div>
<div class="r" style="left:343px;top:1983.54px;width:84.5px;height:24.56px;line-height:24.56px;font-size:13.4px;"><i>5.3%</i></div>
<div class="r" style="left:427.5px;top:1983.54px;width:85px;height:24.56px;line-height:24.56px;font-size:13.4px;"><i>13.4%</i></div>
<div class="r" style="left:512.5px;top:1983.54px;width:85px;height:24.56px;line-height:24.56px;font-size:13.4px;"><i>21.0%</i></div>
<div class="c" style="left:597.5px;top:1983.54px;width:83.8px;height:24.56px;line-height:24.56px;font-size:13.4px;"><i>D</i></div>
<div style="left:5.5px;top:2008.1px;width:675.8px;height:24.56px;background:#dfeafe;"></div>
<div class="c" style="left:5.5px;top:2008.1px;width:40.5px;height:24.56px;background:#f5cc06;line-height:24.56px;font-size:13.4px;color:#000;"><i>6</i></div>
<div class="l" style="left:46px;top:2008.1px;width:127px;height:24.56px;line-height:24.56px;font-size:13.4px;">保園翔也</div>
<div class="l" style="left:173px;top:2008.1px;width:170px;height:24.56px;line-height:24.56px;font-size:13.4px;"><i>44-48-55-445</i></div>
<div class="r" style="left:343px;top:2008.1px;width:84.5px;height:24.56px;line-height:24.56px;font-size:13.4px;"><i>7.4%</i></div>
<div class="r" style="left:427.5px;top:2008.1px;width:85px;height:24.56px;line-height:24.56px;font-size:13.4px;"><i>15.5%</i></div>
<div class="r" style="left:512.5px;top:2008.1px;width:85px;height:24.56px;line-height:24.56px;font-size:13.4px;"><i>24.8%</i></div>
<div class="c" style="left:597.5px;top:2008.1px;width:83.8px;height:24.56px;line-height:24.56px;font-size:13.4px;"><i>D</i></div>
<div style="left:5.5px;top:2032.66px;width:675.8px;height:24.56px;background:#fff;"></div>
<div class="c" style="left:5.5px;top:2032.66px;width:40.5px;height:24.56px;background:#22aa3a;line-height:24.56px;font-size:13.4px;color:#fff;"><i>7</i></div>
<div class="l" style="left:46px;top:2032.66px;width:127px;height:24.56px;line-height:24.56px;font-size:13.4px;">岡田大</div>
<div class="l" style="left:173px;top:2032.66px;width:170px;height:24.56px;line-height:24.56px;font-size:13.4px;"><i>19-32-28-298</i></div>
<div class="r" style="left:343px;top:2032.66px;width:84.5px;height:24.56px;background:#fce0d2;line-height:24.56px;font-size:13.4px;"><i>5.0%</i></div>
<div class="r" style="left:427.5px;top:2032.66px;width:85px;height:24.56px;line-height:24.56px;font-size:13.4px;"><i>13.5%</i></div>
<div class="r" style="left:512.5px;top:2032.66px;width:85px;height:24.56px;line-height:24.56px;font-size:13.4px;"><i>21.0%</i></div>
<div class="c" style="left:597.5px;top:2032.66px;width:83.8px;height:24.56px;line-height:24.56px;font-size:13.4px;"><i>C</i></div>
<div style="left:5.5px;top:2057.22px;width:675.8px;height:24.56px;background:#dfeafe;"></div>
<div class="c" style="left:5.5px;top:2057.22px;width:40.5px;height:24.56px;background:#22aa3a;line-height:24.56px;font-size:13.4px;color:#fff;"><i>8</i></div>
<div class="l" style="left:46px;top:2057.22px;width:127px;height:24.56px;line-height:24.56px;font-size:13.4px;">吉留孝司</div>
<div class="l" style="left:173px;top:2057.22px;width:170px;height:24.56px;line-height:24.56px;font-size:13.4px;"><i>33-47-34-416</i></div>
<div class="r" style="left:343px;top:2057.22px;width:84.5px;height:24.56px;line-height:24.56px;font-size:13.4px;"><i>6.2%</i></div>
<div class="r" style="left:427.5px;top:2057.22px;width:85px;height:24.56px;line-height:24.56px;font-size:13.4px;"><i>15.1%</i></div>
<div class="r" style="left:512.5px;top:2057.22px;width:85px;height:24.56px;line-height:24.56px;font-size:13.4px;"><i>21.5%</i></div>
<div class="c" style="left:597.5px;top:2057.22px;width:83.8px;height:24.56px;line-height:24.56px;font-size:13.4px;"><i>D</i></div>
<div style="left:5.5px;top:2081.78px;width:675.8px;height:24.56px;background:#fff;"></div>
<div class="c" style="left:5.5px;top:2081.78px;width:40.5px;height:24.56px;background:#e8971a;line-height:24.56px;font-size:13.4px;color:#fff;"><i>9</i></div>
<div class="l" style="left:46px;top:2081.78px;width:127px;height:24.56px;line-height:24.56px;font-size:13.4px;">木間塚龍</div>
<div class="l" style="left:173px;top:2081.78px;width:170px;height:24.56px;line-height:24.56px;font-size:13.4px;"><i>14-18-16-161</i></div>
<div class="r" style="left:343px;top:2081.78px;width:84.5px;height:24.56px;line-height:24.56px;font-size:13.4px;"><i>6.7%</i></div>
<div class="r" style="left:427.5px;top:2081.78px;width:85px;height:24.56px;line-height:24.56px;font-size:13.4px;"><i>15.3%</i></div>
<div class="r" style="left:512.5px;top:2081.78px;width:85px;height:24.56px;line-height:24.56px;font-size:13.4px;"><i>23.0%</i></div>
<div class="c" style="left:597.5px;top:2081.78px;width:83.8px;height:24.56px;line-height:24.56px;font-size:13.4px;"><i>D</i></div>
<div style="left:5.5px;top:2106.34px;width:675.8px;height:24.56px;background:#dfeafe;"></div>
<div class="c" style="left:5.5px;top:2106.34px;width:40.5px;height:24.56px;background:#e8971a;line-height:24.56px;font-size:13.4px;color:#fff;"><i>10</i></div>
<div class="l" style="left:46px;top:2106.34px;width:127px;height:24.56px;line-height:24.56px;font-size:13.4px;">及川烈</div>
<div class="l" style="left:173px;top:2106.34px;width:170px;height:24.56px;line-height:24.56px;font-size:13.4px;"><i>26-24-23-169</i></div>
<div class="r" style="left:343px;top:2106.34px;width:84.5px;height:24.56px;background:#fce0d2;line-height:24.56px;font-size:13.4px;"><i>10.7%</i></div>
<div class="r" style="left:427.5px;top:2106.34px;width:85px;height:24.56px;line-height:24.56px;font-size:13.4px;"><i>20.7%</i></div>
<div class="r" style="left:512.5px;top:2106.34px;width:85px;height:24.56px;line-height:24.56px;font-size:13.4px;"><i>30.2%</i></div>
<div class="c" style="left:597.5px;top:2106.34px;width:83.8px;height:24.56px;line-height:24.56px;font-size:13.4px;"><i>C</i></div>
<div style="left:5.5px;top:2130.9px;width:675.8px;height:24.56px;background:#fff;"></div>
<div class="c" style="left:5.5px;top:2130.9px;width:40.5px;height:24.56px;background:#e4509a;line-height:24.56px;font-size:13.4px;color:#fff;"><i>11</i></div>
<div class="l" style="left:46px;top:2130.9px;width:127px;height:24.56px;line-height:24.56px;font-size:13.4px;">仲野光馬</div>
<div class="l" style="left:173px;top:2130.9px;width:170px;height:24.56px;line-height:24.56px;font-size:13.4px;"><i>2-1-3-27</i></div>
<div class="r" style="left:343px;top:2130.9px;width:84.5px;height:24.56px;line-height:24.56px;font-size:13.4px;"><i>6.1%</i></div>
<div class="r" style="left:427.5px;top:2130.9px;width:85px;height:24.56px;line-height:24.56px;font-size:13.4px;"><i>9.1%</i></div>
<div class="r" style="left:512.5px;top:2130.9px;width:85px;height:24.56px;line-height:24.56px;font-size:13.4px;"><i>18.2%</i></div>
<div class="c" style="left:597.5px;top:2130.9px;width:83.8px;height:24.56px;line-height:24.56px;font-size:13.4px;"><i>D</i></div>
<div style="left:5.5px;top:2155.46px;width:675.8px;height:24.56px;background:#dfeafe;"></div>
<div class="c" style="left:5.5px;top:2155.46px;width:40.5px;height:24.56px;background:#e4509a;line-height:24.56px;font-size:13.4px;color:#fff;"><i>12</i></div>
<div class="l" style="left:46px;top:2155.46px;width:127px;height:24.56px;line-height:24.56px;font-size:13.4px;">野畑凌</div>
<div class="l" style="left:173px;top:2155.46px;width:170px;height:24.56px;line-height:24.56px;font-size:13.4px;"><i>49-43-29-244</i></div>
<div class="r" style="left:343px;top:2155.46px;width:84.5px;height:24.56px;line-height:24.56px;font-size:13.4px;"><i>13.4%</i></div>
<div class="r" style="left:427.5px;top:2155.46px;width:85px;height:24.56px;line-height:24.56px;font-size:13.4px;"><i>25.2%</i></div>
<div class="r" style="left:512.5px;top:2155.46px;width:85px;height:24.56px;line-height:24.56px;font-size:13.4px;"><i>33.2%</i></div>
<div class="c" style="left:597.5px;top:2155.46px;width:83.8px;height:24.56px;line-height:24.56px;font-size:13.4px;"><i>D</i></div>
<div style="left:5px;top:1909.36px;width:676.8px;height:1px;background:#606060;"></div>
<div style="left:5px;top:1933.92px;width:676.8px;height:1px;background:#606060;"></div>
<div style="left:5px;top:1958.48px;width:676.8px;height:1px;background:#606060;"></div>
<div style="left:5px;top:1983.04px;width:676.8px;height:1px;background:#606060;"></div>
<div style="left:5px;top:2007.6px;width:676.8px;height:1px;background:#606060;"></div>
<div style="left:5px;top:2032.16px;width:676.8px;height:1px;background:#606060;"></div>
<div style="left:5px;top:2056.72px;width:676.8px;height:1px;background:#606060;"></div>
<div style="left:5px;top:2081.28px;width:676.8px;height:1px;background:#606060;"></div>
<div style="left:5px;top:2105.84px;width:676.8px;height:1px;background:#606060;"></div>
<div style="left:5px;top:2130.4px;width:676.8px;height:1px;background:#606060;"></div>
<div style="left:5px;top:2154.96px;width:676.8px;height:1px;background:#606060;"></div>
<div style="left:45.5px;top:1853.5px;width:1px;height:32.3px;background:#16233f;"></div>
<div style="left:45.5px;top:1884.8px;width:1px;height:295.72px;background:#606060;"></div>
<div style="left:172.5px;top:1853.5px;width:1px;height:32.3px;background:#16233f;"></div>
<div style="left:172.5px;top:1884.8px;width:1px;height:295.72px;background:#606060;"></div>
<div style="left:342.5px;top:1853.5px;width:1px;height:32.3px;background:#16233f;"></div>
<div style="left:342.5px;top:1884.8px;width:1px;height:295.72px;background:#606060;"></div>
<div style="left:427px;top:1853.5px;width:1px;height:32.3px;background:#16233f;"></div>
<div style="left:427px;top:1884.8px;width:1px;height:295.72px;background:#606060;"></div>
<div style="left:512px;top:1853.5px;width:1px;height:32.3px;background:#16233f;"></div>
<div style="left:512px;top:1884.8px;width:1px;height:295.72px;background:#606060;"></div>
<div style="left:597px;top:1853.5px;width:1px;height:32.3px;background:#16233f;"></div>
<div style="left:597px;top:1884.8px;width:1px;height:295.72px;background:#606060;"></div>
<div style="left:5px;top:1884.8px;width:676.8px;height:1px;background:#2a2a2a;"></div>
<div style="left:5px;top:1853.5px;width:676.8px;height:1px;background:#3a3a3a;"></div>
<div style="left:5px;top:1824.5px;width:676.8px;height:1px;background:#606060;"></div>
<div style="left:5px;top:2179.52px;width:676.8px;height:1px;background:#606060;"></div>
<div style="left:5px;top:1824.5px;width:1px;height:356.02px;background:#606060;"></div>
<div style="left:680.8px;top:1824.5px;width:1px;height:356.02px;background:#606060;"></div>
<div class="cap" style="left:5.5px;top:2198.5px;width:675.8px;height:29.3px;background:#fff;line-height:26.9px;font-size:15px;"><s></s>厩舎別成績　過去<i>5</i>年　頭数指定なし</div>
<div style="left:5.5px;top:2227.8px;width:675.8px;height:31px;background:#203864;"></div>
<div class="h" style="left:5.5px;top:2227.8px;width:40.5px;height:31px;line-height:31px;font-size:13.5px;font-weight:bold;">馬番</div>
<div class="h" style="left:46px;top:2227.8px;width:127px;height:31px;line-height:31px;font-size:13.5px;font-weight:bold;">厩舎</div>
<div class="h" style="left:173px;top:2227.8px;width:170px;height:31px;line-height:31px;font-size:13.5px;font-weight:bold;">着別度数</div>
<div class="h" style="left:343px;top:2227.8px;width:84.5px;height:31px;line-height:31px;font-size:13.5px;font-weight:bold;">勝率</div>
<div class="h" style="left:427.5px;top:2227.8px;width:85px;height:31px;line-height:31px;font-size:13.5px;font-weight:bold;">連対率</div>
<div class="h" style="left:512.5px;top:2227.8px;width:85px;height:31px;line-height:31px;font-size:13.5px;font-weight:bold;">複勝率</div>
<div class="h" style="left:597.5px;top:2227.8px;width:83.8px;height:31px;line-height:31px;font-size:13.5px;font-weight:bold;">評価</div>
<div style="left:5.5px;top:2258.8px;width:675.8px;height:24.57px;background:#fff;"></div>
<div class="c" style="left:5.5px;top:2258.8px;width:40.5px;height:24.57px;background:#f0f0f0;line-height:24.57px;font-size:13.4px;color:#000;"><i>1</i></div>
<div class="l" style="left:46px;top:2258.8px;width:127px;height:24.57px;line-height:24.57px;font-size:13.4px;">箕輪武</div>
<div class="l" style="left:173px;top:2258.8px;width:170px;height:24.57px;line-height:24.57px;font-size:13.4px;"><i>42-48-63-347</i></div>
<div class="r" style="left:343px;top:2258.8px;width:84.5px;height:24.57px;line-height:24.57px;font-size:13.4px;"><i>8.4%</i></div>
<div class="r" style="left:427.5px;top:2258.8px;width:85px;height:24.57px;line-height:24.57px;font-size:13.4px;"><i>18.0%</i></div>
<div class="r" style="left:512.5px;top:2258.8px;width:85px;height:24.57px;line-height:24.57px;font-size:13.4px;"><i>30.6%</i></div>
<div class="c" style="left:597.5px;top:2258.8px;width:83.8px;height:24.57px;line-height:24.57px;font-size:13.4px;"><i>D</i></div>
<div style="left:5.5px;top:2283.37px;width:675.8px;height:24.57px;background:#dfeafe;"></div>
<div class="c" style="left:5.5px;top:2283.37px;width:40.5px;height:24.57px;background:#000;line-height:24.57px;font-size:13.4px;color:#fff;"><i>2</i></div>
<div class="l" style="left:46px;top:2283.37px;width:127px;height:24.57px;line-height:24.57px;font-size:13.4px;">宇野木博徳</div>
<div class="l" style="left:173px;top:2283.37px;width:170px;height:24.57px;line-height:24.57px;font-size:13.4px;"><i>98-81-93-516</i></div>
<div class="r" style="left:343px;top:2283.37px;width:84.5px;height:24.57px;line-height:24.57px;font-size:13.4px;"><i>12.4%</i></div>
<div class="r" style="left:427.5px;top:2283.37px;width:85px;height:24.57px;line-height:24.57px;font-size:13.4px;"><i>22.7%</i></div>
<div class="r" style="left:512.5px;top:2283.37px;width:85px;height:24.57px;line-height:24.57px;font-size:13.4px;"><i>34.5%</i></div>
<div class="c" style="left:597.5px;top:2283.37px;width:83.8px;height:24.57px;line-height:24.57px;font-size:13.4px;"><i>D</i></div>
<div style="left:5.5px;top:2307.94px;width:675.8px;height:24.57px;background:#fff;"></div>
<div class="c" style="left:5.5px;top:2307.94px;width:40.5px;height:24.57px;background:#ec4033;line-height:24.57px;font-size:13.4px;color:#fff;"><i>3</i></div>
<div class="l" style="left:46px;top:2307.94px;width:127px;height:24.57px;line-height:24.57px;font-size:13.4px;">小沢宏次</div>
<div class="l" style="left:173px;top:2307.94px;width:170px;height:24.57px;line-height:24.57px;font-size:13.4px;"><i>68-79-64-428</i></div>
<div class="r" style="left:343px;top:2307.94px;width:84.5px;height:24.57px;line-height:24.57px;font-size:13.4px;"><i>10.6%</i></div>
<div class="r" style="left:427.5px;top:2307.94px;width:85px;height:24.57px;line-height:24.57px;font-size:13.4px;"><i>23.0%</i></div>
<div class="r" style="left:512.5px;top:2307.94px;width:85px;height:24.57px;line-height:24.57px;font-size:13.4px;"><i>33.0%</i></div>
<div class="c" style="left:597.5px;top:2307.94px;width:83.8px;height:24.57px;line-height:24.57px;font-size:13.4px;"><i>D</i></div>
<div style="left:5.5px;top:2332.51px;width:675.8px;height:24.57px;background:#dfeafe;"></div>
<div class="c" style="left:5.5px;top:2332.51px;width:40.5px;height:24.57px;background:#4585f4;line-height:24.57px;font-size:13.4px;color:#fff;"><i>4</i></div>
<div class="l" style="left:46px;top:2332.51px;width:127px;height:24.57px;line-height:24.57px;font-size:13.4px;">入口由美子</div>
<div class="l" style="left:173px;top:2332.51px;width:170px;height:24.57px;line-height:24.57px;font-size:13.4px;"><i>15-20-19-182</i></div>
<div class="r" style="left:343px;top:2332.51px;width:84.5px;height:24.57px;line-height:24.57px;font-size:13.4px;"><i>6.4%</i></div>
<div class="r" style="left:427.5px;top:2332.51px;width:85px;height:24.57px;line-height:24.57px;font-size:13.4px;"><i>14.8%</i></div>
<div class="r" style="left:512.5px;top:2332.51px;width:85px;height:24.57px;line-height:24.57px;font-size:13.4px;"><i>22.9%</i></div>
<div class="c" style="left:597.5px;top:2332.51px;width:83.8px;height:24.57px;line-height:24.57px;font-size:13.4px;"><i>D</i></div>
<div style="left:5.5px;top:2357.08px;width:675.8px;height:24.57px;background:#fff;"></div>
<div class="c" style="left:5.5px;top:2357.08px;width:40.5px;height:24.57px;background:#f5cc06;line-height:24.57px;font-size:13.4px;color:#000;"><i>5</i></div>
<div class="l" style="left:46px;top:2357.08px;width:127px;height:24.57px;line-height:24.57px;font-size:13.4px;">酒井一則</div>
<div class="l" style="left:173px;top:2357.08px;width:170px;height:24.57px;line-height:24.57px;font-size:13.4px;"><i>32-51-53-578</i></div>
<div class="r" style="left:343px;top:2357.08px;width:84.5px;height:24.57px;line-height:24.57px;font-size:13.4px;"><i>4.5%</i></div>
<div class="r" style="left:427.5px;top:2357.08px;width:85px;height:24.57px;line-height:24.57px;font-size:13.4px;"><i>11.6%</i></div>
<div class="r" style="left:512.5px;top:2357.08px;width:85px;height:24.57px;line-height:24.57px;font-size:13.4px;"><i>19.0%</i></div>
<div class="c" style="left:597.5px;top:2357.08px;width:83.8px;height:24.57px;line-height:24.57px;font-size:13.4px;"><i>D</i></div>
<div style="left:5.5px;top:2381.65px;width:675.8px;height:24.57px;background:#dfeafe;"></div>
<div class="c" style="left:5.5px;top:2381.65px;width:40.5px;height:24.57px;background:#f5cc06;line-height:24.57px;font-size:13.4px;color:#000;"><i>6</i></div>
<div class="l" style="left:46px;top:2381.65px;width:127px;height:24.57px;line-height:24.57px;font-size:13.4px;">野口寛仁</div>
<div class="l" style="left:173px;top:2381.65px;width:170px;height:24.57px;line-height:24.57px;font-size:13.4px;"><i>47-37-37-258</i></div>
<div class="r" style="left:343px;top:2381.65px;width:84.5px;height:24.57px;background:#fce0d2;line-height:24.57px;font-size:13.4px;"><i>12.4%</i></div>
<div class="r" style="left:427.5px;top:2381.65px;width:85px;height:24.57px;line-height:24.57px;font-size:13.4px;"><i>22.2%</i></div>
<div class="r" style="left:512.5px;top:2381.65px;width:85px;height:24.57px;line-height:24.57px;font-size:13.4px;"><i>31.9%</i></div>
<div class="c" style="left:597.5px;top:2381.65px;width:83.8px;height:24.57px;line-height:24.57px;font-size:13.4px;"><i>C</i></div>
<div style="left:5.5px;top:2406.22px;width:675.8px;height:24.57px;background:#fff;"></div>
<div class="c" style="left:5.5px;top:2406.22px;width:40.5px;height:24.57px;background:#22aa3a;line-height:24.57px;font-size:13.4px;color:#fff;"><i>7</i></div>
<div class="l" style="left:46px;top:2406.22px;width:127px;height:24.57px;line-height:24.57px;font-size:13.4px;">藪口一麻</div>
<div class="l" style="left:173px;top:2406.22px;width:170px;height:24.57px;line-height:24.57px;font-size:13.4px;"><i>27-34-29-433</i></div>
<div class="r" style="left:343px;top:2406.22px;width:84.5px;height:24.57px;line-height:24.57px;font-size:13.4px;"><i>5.2%</i></div>
<div class="r" style="left:427.5px;top:2406.22px;width:85px;height:24.57px;line-height:24.57px;font-size:13.4px;"><i>11.7%</i></div>
<div class="r" style="left:512.5px;top:2406.22px;width:85px;height:24.57px;line-height:24.57px;font-size:13.4px;"><i>17.2%</i></div>
<div class="c" style="left:597.5px;top:2406.22px;width:83.8px;height:24.57px;line-height:24.57px;font-size:13.4px;"><i>D</i></div>
<div style="left:5.5px;top:2430.79px;width:675.8px;height:24.57px;background:#dfeafe;"></div>
<div class="c" style="left:5.5px;top:2430.79px;width:40.5px;height:24.57px;background:#22aa3a;line-height:24.57px;font-size:13.4px;color:#fff;"><i>8</i></div>
<div class="l" style="left:46px;top:2430.79px;width:127px;height:24.57px;line-height:24.57px;font-size:13.4px;">藪口一麻</div>
<div class="l" style="left:173px;top:2430.79px;width:170px;height:24.57px;line-height:24.57px;font-size:13.4px;"><i>27-34-29-433</i></div>
<div class="r" style="left:343px;top:2430.79px;width:84.5px;height:24.57px;line-height:24.57px;font-size:13.4px;"><i>5.2%</i></div>
<div class="r" style="left:427.5px;top:2430.79px;width:85px;height:24.57px;line-height:24.57px;font-size:13.4px;"><i>11.7%</i></div>
<div class="r" style="left:512.5px;top:2430.79px;width:85px;height:24.57px;line-height:24.57px;font-size:13.4px;"><i>17.2%</i></div>
<div class="c" style="left:597.5px;top:2430.79px;width:83.8px;height:24.57px;line-height:24.57px;font-size:13.4px;"><i>D</i></div>
<div style="left:5.5px;top:2455.36px;width:675.8px;height:24.57px;background:#fff;"></div>
<div class="c" style="left:5.5px;top:2455.36px;width:40.5px;height:24.57px;background:#e8971a;line-height:24.57px;font-size:13.4px;color:#fff;"><i>9</i></div>
<div class="l" style="left:46px;top:2455.36px;width:127px;height:24.57px;line-height:24.57px;font-size:13.4px;">工藤伸輔</div>
<div class="l" style="left:173px;top:2455.36px;width:170px;height:24.57px;line-height:24.57px;font-size:13.4px;"><i>52-60-74-442</i></div>
<div class="r" style="left:343px;top:2455.36px;width:84.5px;height:24.57px;line-height:24.57px;font-size:13.4px;"><i>8.3%</i></div>
<div class="r" style="left:427.5px;top:2455.36px;width:85px;height:24.57px;line-height:24.57px;font-size:13.4px;"><i>17.8%</i></div>
<div class="r" style="left:512.5px;top:2455.36px;width:85px;height:24.57px;line-height:24.57px;font-size:13.4px;"><i>29.6%</i></div>
<div class="c" style="left:597.5px;top:2455.36px;width:83.8px;height:24.57px;line-height:24.57px;font-size:13.4px;"><i>D</i></div>
<div style="left:5.5px;top:2479.93px;width:675.8px;height:24.57px;background:#dfeafe;"></div>
<div class="c" style="left:5.5px;top:2479.93px;width:40.5px;height:24.57px;background:#e8971a;line-height:24.57px;font-size:13.4px;color:#fff;"><i>10</i></div>
<div class="l" style="left:46px;top:2479.93px;width:127px;height:24.57px;line-height:24.57px;font-size:13.4px;">酒井一則</div>
<div class="l" style="left:173px;top:2479.93px;width:170px;height:24.57px;line-height:24.57px;font-size:13.4px;"><i>32-51-53-578</i></div>
<div class="r" style="left:343px;top:2479.93px;width:84.5px;height:24.57px;line-height:24.57px;font-size:13.4px;"><i>4.5%</i></div>
<div class="r" style="left:427.5px;top:2479.93px;width:85px;height:24.57px;line-height:24.57px;font-size:13.4px;"><i>11.6%</i></div>
<div class="r" style="left:512.5px;top:2479.93px;width:85px;height:24.57px;line-height:24.57px;font-size:13.4px;"><i>19.0%</i></div>
<div class="c" style="left:597.5px;top:2479.93px;width:83.8px;height:24.57px;line-height:24.57px;font-size:13.4px;"><i>D</i></div>
<div style="left:5.5px;top:2504.5px;width:675.8px;height:24.57px;background:#fff;"></div>
<div class="c" style="left:5.5px;top:2504.5px;width:40.5px;height:24.57px;background:#e4509a;line-height:24.57px;font-size:13.4px;color:#fff;"><i>11</i></div>
<div class="l" style="left:46px;top:2504.5px;width:127px;height:24.57px;line-height:24.57px;font-size:13.4px;">長谷川忍</div>
<div class="l" style="left:173px;top:2504.5px;width:170px;height:24.57px;line-height:24.57px;font-size:13.4px;"><i>29-51-65-486</i></div>
<div class="r" style="left:343px;top:2504.5px;width:84.5px;height:24.57px;line-height:24.57px;font-size:13.4px;"><i>4.6%</i></div>
<div class="r" style="left:427.5px;top:2504.5px;width:85px;height:24.57px;line-height:24.57px;font-size:13.4px;"><i>12.7%</i></div>
<div class="r" style="left:512.5px;top:2504.5px;width:85px;height:24.57px;line-height:24.57px;font-size:13.4px;"><i>23.0%</i></div>
<div class="c" style="left:597.5px;top:2504.5px;width:83.8px;height:24.57px;line-height:24.57px;font-size:13.4px;"><i>D</i></div>
<div style="left:5.5px;top:2529.07px;width:675.8px;height:24.57px;background:#dfeafe;"></div>
<div class="c" style="left:5.5px;top:2529.07px;width:40.5px;height:24.57px;background:#e4509a;line-height:24.57px;font-size:13.4px;color:#fff;"><i>12</i></div>
<div class="l" style="left:46px;top:2529.07px;width:127px;height:24.57px;line-height:24.57px;font-size:13.4px;">宇野木博徳</div>
<div class="l" style="left:173px;top:2529.07px;width:170px;height:24.57px;line-height:24.57px;font-size:13.4px;"><i>98-81-93-516</i></div>
<div class="r" style="left:343px;top:2529.07px;width:84.5px;height:24.57px;line-height:24.57px;font-size:13.4px;"><i>12.4%</i></div>
<div class="r" style="left:427.5px;top:2529.07px;width:85px;height:24.57px;line-height:24.57px;font-size:13.4px;"><i>22.7%</i></div>
<div class="r" style="left:512.5px;top:2529.07px;width:85px;height:24.57px;line-height:24.57px;font-size:13.4px;"><i>34.5%</i></div>
<div class="c" style="left:597.5px;top:2529.07px;width:83.8px;height:24.57px;line-height:24.57px;font-size:13.4px;"><i>D</i></div>
<div style="left:5px;top:2282.87px;width:676.8px;height:1px;background:#606060;"></div>
<div style="left:5px;top:2307.44px;width:676.8px;height:1px;background:#606060;"></div>
<div style="left:5px;top:2332.01px;width:676.8px;height:1px;background:#606060;"></div>
<div style="left:5px;top:2356.58px;width:676.8px;height:1px;background:#606060;"></div>
<div style="left:5px;top:2381.15px;width:676.8px;height:1px;background:#606060;"></div>
<div style="left:5px;top:2405.72px;width:676.8px;height:1px;background:#606060;"></div>
<div style="left:5px;top:2430.29px;width:676.8px;height:1px;background:#606060;"></div>
<div style="left:5px;top:2454.86px;width:676.8px;height:1px;background:#606060;"></div>
<div style="left:5px;top:2479.43px;width:676.8px;height:1px;background:#606060;"></div>
<div style="left:5px;top:2504px;width:676.8px;height:1px;background:#606060;"></div>
<div style="left:5px;top:2528.57px;width:676.8px;height:1px;background:#606060;"></div>
<div style="left:45.5px;top:2227.3px;width:1px;height:32px;background:#16233f;"></div>
<div style="left:45.5px;top:2258.3px;width:1px;height:295.84px;background:#606060;"></div>
<div style="left:172.5px;top:2227.3px;width:1px;height:32px;background:#16233f;"></div>
<div style="left:172.5px;top:2258.3px;width:1px;height:295.84px;background:#606060;"></div>
<div style="left:342.5px;top:2227.3px;width:1px;height:32px;background:#16233f;"></div>
<div style="left:342.5px;top:2258.3px;width:1px;height:295.84px;background:#606060;"></div>
<div style="left:427px;top:2227.3px;width:1px;height:32px;background:#16233f;"></div>
<div style="left:427px;top:2258.3px;width:1px;height:295.84px;background:#606060;"></div>
<div style="left:512px;top:2227.3px;width:1px;height:32px;background:#16233f;"></div>
<div style="left:512px;top:2258.3px;width:1px;height:295.84px;background:#606060;"></div>
<div style="left:597px;top:2227.3px;width:1px;height:32px;background:#16233f;"></div>
<div style="left:597px;top:2258.3px;width:1px;height:295.84px;background:#606060;"></div>
<div style="left:5px;top:2258.3px;width:676.8px;height:1px;background:#2a2a2a;"></div>
<div style="left:5px;top:2227.3px;width:676.8px;height:1px;background:#3a3a3a;"></div>
<div style="left:5px;top:2198px;width:676.8px;height:1px;background:#606060;"></div>
<div style="left:5px;top:2553.14px;width:676.8px;height:1px;background:#606060;"></div>
<div style="left:5px;top:2198px;width:1px;height:356.14px;background:#606060;"></div>
<div style="left:680.8px;top:2198px;width:1px;height:356.14px;background:#606060;"></div>
</body></html>
